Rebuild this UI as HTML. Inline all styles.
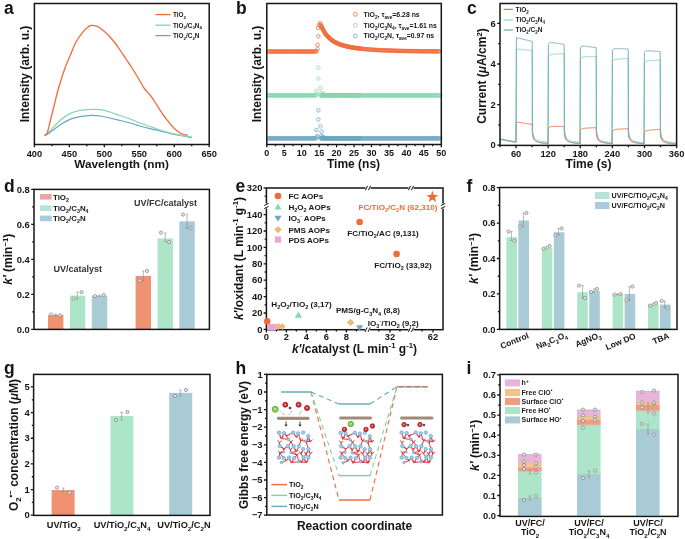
<!DOCTYPE html><html><head><meta charset="utf-8"><style>html,body{margin:0;padding:0;background:#fff;overflow:hidden}svg{display:block;will-change:transform}text{font-family:"Liberation Sans", sans-serif}</style></head><body>
<svg width="685" height="539" viewBox="0 0 685 539">
<rect width="685" height="539" fill="#fff"/>
<text x="4" y="14" font-size="17.5" text-anchor="start" fill="#151515" font-weight="bold">a</text>
<text x="236" y="14" font-size="17.5" text-anchor="start" fill="#151515" font-weight="bold">b</text>
<text x="467" y="14" font-size="17.5" text-anchor="start" fill="#151515" font-weight="bold">c</text>
<text x="4" y="191.5" font-size="17.5" text-anchor="start" fill="#151515" font-weight="bold">d</text>
<text x="235.5" y="191.5" font-size="17.5" text-anchor="start" fill="#151515" font-weight="bold">e</text>
<text x="466.5" y="191.5" font-size="17.5" text-anchor="start" fill="#151515" font-weight="bold">f</text>
<text x="4" y="374" font-size="17.5" text-anchor="start" fill="#151515" font-weight="bold">g</text>
<text x="235.5" y="374" font-size="17.5" text-anchor="start" fill="#151515" font-weight="bold">h</text>
<text x="466.5" y="374" font-size="17.5" text-anchor="start" fill="#151515" font-weight="bold">i</text>
<path d="M34.4 144.5v2.8M69.36 144.5v2.8M104.32 144.5v2.8M139.28 144.5v2.8M174.24 144.5v2.8M209.2 144.5v2.8" stroke="#151515" stroke-width="1.3"/>
<path d="M51.88 144.5v1.8M86.84 144.5v1.8M121.8 144.5v1.8M156.76 144.5v1.8M191.72 144.5v1.8" stroke="#151515" stroke-width="1.3"/>
<text x="34.4" y="156.6" font-size="9.3" text-anchor="middle" fill="#151515" font-weight="bold">400</text>
<text x="69.36" y="156.6" font-size="9.3" text-anchor="middle" fill="#151515" font-weight="bold">450</text>
<text x="104.32" y="156.6" font-size="9.3" text-anchor="middle" fill="#151515" font-weight="bold">500</text>
<text x="139.28" y="156.6" font-size="9.3" text-anchor="middle" fill="#151515" font-weight="bold">550</text>
<text x="174.24" y="156.6" font-size="9.3" text-anchor="middle" fill="#151515" font-weight="bold">600</text>
<text x="209.2" y="156.6" font-size="9.3" text-anchor="middle" fill="#151515" font-weight="bold">650</text>
<text x="121.6" y="168.2" font-size="11.8" text-anchor="middle" fill="#151515" font-weight="bold">Wavelength (nm)</text>
<text x="28.9" y="74" font-size="12" text-anchor="middle" fill="#151515" font-weight="bold" transform="rotate(-90 28.9 74)">Intensity (arb. u.)</text>
<path d="M44.4 135.8C45.33 135.23 47.4 134.2 50 132.4C52.6 130.6 56.67 127.17 60 125C63.33 122.83 66.67 120.8 70 119.4C73.33 118 76.33 117.27 80 116.6C83.67 115.93 88.67 115.5 92 115.4C95.33 115.3 97 115.57 100 116C103 116.43 106.67 117.25 110 118C113.33 118.75 116.67 119.67 120 120.5C123.33 121.33 126.67 122.08 130 123C133.33 123.92 136.67 125.07 140 126C143.33 126.93 146.67 127.77 150 128.6C153.33 129.43 156.67 130.22 160 131C163.33 131.78 166.67 132.58 170 133.3C173.33 134.02 176.33 134.58 180 135.3C183.67 136.02 190 137.22 192 137.6" fill="none" stroke="#6BA6BF" stroke-width="1.2"/>
<path d="M44.4 135.5C45.33 134.75 47.4 133.5 50 131C52.6 128.5 56.67 123.4 60 120.5C63.33 117.6 66.67 115.28 70 113.6C73.33 111.92 76.33 111.1 80 110.4C83.67 109.7 88.67 109.53 92 109.4C95.33 109.27 97 109.17 100 109.6C103 110.03 106.67 111.02 110 112C113.33 112.98 116.67 114.33 120 115.5C123.33 116.67 126.67 117.75 130 119C133.33 120.25 136.67 121.75 140 123C143.33 124.25 146.67 125.33 150 126.5C153.33 127.67 156.67 128.92 160 130C163.33 131.08 166.67 132.13 170 133C173.33 133.87 176.33 134.5 180 135.2C183.67 135.9 190 136.87 192 137.2" fill="none" stroke="#83D5AC" stroke-width="1.2"/>
<path d="M44.4 135.2C44.83 134.93 46.07 135.8 47 133.6C47.93 131.4 48.83 126.6 50 122C51.17 117.4 52.67 111.33 54 106C55.33 100.67 56.83 94.33 58 90C59.17 85.67 59.83 83.67 61 80C62.17 76.33 63.5 72 65 68C66.5 64 68.17 60.33 70 56C71.83 51.67 73.83 46 76 42C78.17 38 81 34.5 83 32C85 29.5 86.57 28.1 88 27C89.43 25.9 90.27 25.6 91.6 25.4C92.93 25.2 94.6 25.37 96 25.8C97.4 26.23 98.5 26.97 100 28C101.5 29.03 103.33 30.5 105 32C106.67 33.5 108.33 35.17 110 37C111.67 38.83 113.33 40.83 115 43C116.67 45.17 118.17 47.33 120 50C121.83 52.67 124 56 126 59C128 62 129.67 64.33 132 68C134.33 71.67 138 77.67 140 81C142 84.33 142.33 85.67 144 88C145.67 90.33 148.17 92.67 150 95C151.83 97.33 153.33 99.5 155 102C156.67 104.5 158.5 107.67 160 110C161.5 112.33 162.67 114.17 164 116C165.33 117.83 166.67 119.33 168 121C169.33 122.67 170.67 124.5 172 126C173.33 127.5 174.67 128.83 176 130C177.33 131.17 178.67 132.25 180 133C181.33 133.75 182.67 134.12 184 134.5C185.33 134.88 187.33 135.17 188 135.3" fill="none" stroke="#F26B3A" stroke-width="1.3"/>
<line x1="155.4" y1="14.6" x2="170.6" y2="14.6" stroke="#F26B3A" stroke-width="1.3"/>
<text x="173" y="16.9" font-size="6.4" text-anchor="start" fill="#151515" font-weight="bold">TiO<tspan dy="1.79" font-size="4.35">2</tspan></text>
<line x1="155.4" y1="25.2" x2="170.6" y2="25.2" stroke="#83D5AC" stroke-width="1.3"/>
<text x="173" y="27.5" font-size="6.4" text-anchor="start" fill="#151515" font-weight="bold">TiO<tspan dy="1.79" font-size="4.35">2</tspan><tspan dy="-1.79">/C</tspan><tspan dy="1.79" font-size="4.35">3</tspan><tspan dy="-1.79">N</tspan><tspan dy="1.79" font-size="4.35">4</tspan></text>
<line x1="155.4" y1="35.6" x2="170.6" y2="35.6" stroke="#6BA6BF" stroke-width="1.3"/>
<text x="173" y="37.9" font-size="6.4" text-anchor="start" fill="#151515" font-weight="bold">TiO<tspan dy="1.79" font-size="4.35">2</tspan><tspan dy="-1.79">/C</tspan><tspan dy="1.79" font-size="4.35">2</tspan><tspan dy="-1.79">N</tspan></text>
<rect x="34.4" y="3.5" width="174.8" height="141" fill="none" stroke="#151515" stroke-width="1.5"/>
<path d="M266.8 144.5v2.8M284.25 144.5v2.8M301.7 144.5v2.8M319.15 144.5v2.8M336.6 144.5v2.8M354.05 144.5v2.8M371.5 144.5v2.8M388.95 144.5v2.8M406.4 144.5v2.8M423.85 144.5v2.8M441.3 144.5v2.8" stroke="#151515" stroke-width="1.3"/>
<path d="M275.53 144.5v1.8M292.98 144.5v1.8M310.43 144.5v1.8M327.88 144.5v1.8M345.33 144.5v1.8M362.77 144.5v1.8M380.23 144.5v1.8M397.68 144.5v1.8M415.12 144.5v1.8M432.58 144.5v1.8" stroke="#151515" stroke-width="1.3"/>
<text x="266.8" y="156.3" font-size="9" text-anchor="middle" fill="#151515" font-weight="bold">0</text>
<text x="284.25" y="156.3" font-size="9" text-anchor="middle" fill="#151515" font-weight="bold">5</text>
<text x="301.7" y="156.3" font-size="9" text-anchor="middle" fill="#151515" font-weight="bold">10</text>
<text x="319.15" y="156.3" font-size="9" text-anchor="middle" fill="#151515" font-weight="bold">15</text>
<text x="336.6" y="156.3" font-size="9" text-anchor="middle" fill="#151515" font-weight="bold">20</text>
<text x="354.05" y="156.3" font-size="9" text-anchor="middle" fill="#151515" font-weight="bold">25</text>
<text x="371.5" y="156.3" font-size="9" text-anchor="middle" fill="#151515" font-weight="bold">30</text>
<text x="388.95" y="156.3" font-size="9" text-anchor="middle" fill="#151515" font-weight="bold">35</text>
<text x="406.4" y="156.3" font-size="9" text-anchor="middle" fill="#151515" font-weight="bold">40</text>
<text x="423.85" y="156.3" font-size="9" text-anchor="middle" fill="#151515" font-weight="bold">45</text>
<text x="441.3" y="156.3" font-size="9" text-anchor="middle" fill="#151515" font-weight="bold">50</text>
<text x="353.5" y="167.9" font-size="12" text-anchor="middle" fill="#151515" font-weight="bold">Time (ns)</text>
<text x="261" y="74" font-size="12" text-anchor="middle" fill="#151515" font-weight="bold" transform="rotate(-90 261 74)">Intensity (arb. u.)</text>
<path d="M266.45 138.4a1.75 1.75 0 1 0 3.5 0a1.75 1.75 0 1 0-3.5 0M267.35 138.4a1.75 1.75 0 1 0 3.5 0a1.75 1.75 0 1 0-3.5 0M268.25 138.4a1.75 1.75 0 1 0 3.5 0a1.75 1.75 0 1 0-3.5 0M269.15 138.4a1.75 1.75 0 1 0 3.5 0a1.75 1.75 0 1 0-3.5 0M270.05 138.4a1.75 1.75 0 1 0 3.5 0a1.75 1.75 0 1 0-3.5 0M270.95 138.4a1.75 1.75 0 1 0 3.5 0a1.75 1.75 0 1 0-3.5 0M271.85 138.4a1.75 1.75 0 1 0 3.5 0a1.75 1.75 0 1 0-3.5 0M272.75 138.4a1.75 1.75 0 1 0 3.5 0a1.75 1.75 0 1 0-3.5 0M273.65 138.4a1.75 1.75 0 1 0 3.5 0a1.75 1.75 0 1 0-3.5 0M274.55 138.4a1.75 1.75 0 1 0 3.5 0a1.75 1.75 0 1 0-3.5 0M275.45 138.4a1.75 1.75 0 1 0 3.5 0a1.75 1.75 0 1 0-3.5 0M276.35 138.4a1.75 1.75 0 1 0 3.5 0a1.75 1.75 0 1 0-3.5 0M277.25 138.4a1.75 1.75 0 1 0 3.5 0a1.75 1.75 0 1 0-3.5 0M278.15 138.4a1.75 1.75 0 1 0 3.5 0a1.75 1.75 0 1 0-3.5 0M279.05 138.4a1.75 1.75 0 1 0 3.5 0a1.75 1.75 0 1 0-3.5 0M279.95 138.4a1.75 1.75 0 1 0 3.5 0a1.75 1.75 0 1 0-3.5 0M280.85 138.4a1.75 1.75 0 1 0 3.5 0a1.75 1.75 0 1 0-3.5 0M281.75 138.4a1.75 1.75 0 1 0 3.5 0a1.75 1.75 0 1 0-3.5 0M282.65 138.4a1.75 1.75 0 1 0 3.5 0a1.75 1.75 0 1 0-3.5 0M283.55 138.4a1.75 1.75 0 1 0 3.5 0a1.75 1.75 0 1 0-3.5 0M284.45 138.4a1.75 1.75 0 1 0 3.5 0a1.75 1.75 0 1 0-3.5 0M285.35 138.4a1.75 1.75 0 1 0 3.5 0a1.75 1.75 0 1 0-3.5 0M286.25 138.4a1.75 1.75 0 1 0 3.5 0a1.75 1.75 0 1 0-3.5 0M287.15 138.4a1.75 1.75 0 1 0 3.5 0a1.75 1.75 0 1 0-3.5 0M288.05 138.4a1.75 1.75 0 1 0 3.5 0a1.75 1.75 0 1 0-3.5 0M288.95 138.4a1.75 1.75 0 1 0 3.5 0a1.75 1.75 0 1 0-3.5 0M289.85 138.4a1.75 1.75 0 1 0 3.5 0a1.75 1.75 0 1 0-3.5 0M290.75 138.4a1.75 1.75 0 1 0 3.5 0a1.75 1.75 0 1 0-3.5 0M291.65 138.4a1.75 1.75 0 1 0 3.5 0a1.75 1.75 0 1 0-3.5 0M292.55 138.4a1.75 1.75 0 1 0 3.5 0a1.75 1.75 0 1 0-3.5 0M293.45 138.4a1.75 1.75 0 1 0 3.5 0a1.75 1.75 0 1 0-3.5 0M294.35 138.4a1.75 1.75 0 1 0 3.5 0a1.75 1.75 0 1 0-3.5 0M295.25 138.4a1.75 1.75 0 1 0 3.5 0a1.75 1.75 0 1 0-3.5 0M296.15 138.4a1.75 1.75 0 1 0 3.5 0a1.75 1.75 0 1 0-3.5 0M297.05 138.4a1.75 1.75 0 1 0 3.5 0a1.75 1.75 0 1 0-3.5 0M297.95 138.4a1.75 1.75 0 1 0 3.5 0a1.75 1.75 0 1 0-3.5 0M298.85 138.4a1.75 1.75 0 1 0 3.5 0a1.75 1.75 0 1 0-3.5 0M299.75 138.4a1.75 1.75 0 1 0 3.5 0a1.75 1.75 0 1 0-3.5 0M300.65 138.4a1.75 1.75 0 1 0 3.5 0a1.75 1.75 0 1 0-3.5 0M301.55 138.4a1.75 1.75 0 1 0 3.5 0a1.75 1.75 0 1 0-3.5 0M302.45 138.4a1.75 1.75 0 1 0 3.5 0a1.75 1.75 0 1 0-3.5 0M303.35 138.4a1.75 1.75 0 1 0 3.5 0a1.75 1.75 0 1 0-3.5 0M304.25 138.4a1.75 1.75 0 1 0 3.5 0a1.75 1.75 0 1 0-3.5 0M305.15 138.4a1.75 1.75 0 1 0 3.5 0a1.75 1.75 0 1 0-3.5 0M306.05 138.4a1.75 1.75 0 1 0 3.5 0a1.75 1.75 0 1 0-3.5 0M306.95 138.4a1.75 1.75 0 1 0 3.5 0a1.75 1.75 0 1 0-3.5 0M307.85 138.4a1.75 1.75 0 1 0 3.5 0a1.75 1.75 0 1 0-3.5 0M308.75 138.4a1.75 1.75 0 1 0 3.5 0a1.75 1.75 0 1 0-3.5 0M309.65 138.4a1.75 1.75 0 1 0 3.5 0a1.75 1.75 0 1 0-3.5 0M310.55 138.4a1.75 1.75 0 1 0 3.5 0a1.75 1.75 0 1 0-3.5 0M311.45 138.4a1.75 1.75 0 1 0 3.5 0a1.75 1.75 0 1 0-3.5 0M312.35 138.4a1.75 1.75 0 1 0 3.5 0a1.75 1.75 0 1 0-3.5 0M313.25 138.4a1.75 1.75 0 1 0 3.5 0a1.75 1.75 0 1 0-3.5 0M314.15 138.4a1.75 1.75 0 1 0 3.5 0a1.75 1.75 0 1 0-3.5 0M315.55 136a1.75 1.75 0 1 0 3.5 0a1.75 1.75 0 1 0-3.5 0M314.65 130a1.75 1.75 0 1 0 3.5 0a1.75 1.75 0 1 0-3.5 0M319.85 131.6a1.75 1.75 0 1 0 3.5 0a1.75 1.75 0 1 0-3.5 0M318.65 126.4a1.75 1.75 0 1 0 3.5 0a1.75 1.75 0 1 0-3.5 0M316.65 119.4a1.75 1.75 0 1 0 3.5 0a1.75 1.75 0 1 0-3.5 0M316.65 110.4a1.75 1.75 0 1 0 3.5 0a1.75 1.75 0 1 0-3.5 0M315.05 137.4a1.75 1.75 0 1 0 3.5 0a1.75 1.75 0 1 0-3.5 0M318.95 138.4a1.75 1.75 0 1 0 3.5 0a1.75 1.75 0 1 0-3.5 0M319.45 138.4a1.75 1.75 0 1 0 3.5 0a1.75 1.75 0 1 0-3.5 0M319.95 138.4a1.75 1.75 0 1 0 3.5 0a1.75 1.75 0 1 0-3.5 0M320.45 138.4a1.75 1.75 0 1 0 3.5 0a1.75 1.75 0 1 0-3.5 0M320.95 138.4a1.75 1.75 0 1 0 3.5 0a1.75 1.75 0 1 0-3.5 0M321.45 138.4a1.75 1.75 0 1 0 3.5 0a1.75 1.75 0 1 0-3.5 0M321.95 138.4a1.75 1.75 0 1 0 3.5 0a1.75 1.75 0 1 0-3.5 0M322.45 138.4a1.75 1.75 0 1 0 3.5 0a1.75 1.75 0 1 0-3.5 0M322.95 138.4a1.75 1.75 0 1 0 3.5 0a1.75 1.75 0 1 0-3.5 0M323.45 138.4a1.75 1.75 0 1 0 3.5 0a1.75 1.75 0 1 0-3.5 0M323.95 138.4a1.75 1.75 0 1 0 3.5 0a1.75 1.75 0 1 0-3.5 0M324.45 138.4a1.75 1.75 0 1 0 3.5 0a1.75 1.75 0 1 0-3.5 0M324.95 138.4a1.75 1.75 0 1 0 3.5 0a1.75 1.75 0 1 0-3.5 0M325.45 138.4a1.75 1.75 0 1 0 3.5 0a1.75 1.75 0 1 0-3.5 0M325.95 138.4a1.75 1.75 0 1 0 3.5 0a1.75 1.75 0 1 0-3.5 0M326.45 138.4a1.75 1.75 0 1 0 3.5 0a1.75 1.75 0 1 0-3.5 0M326.95 138.4a1.75 1.75 0 1 0 3.5 0a1.75 1.75 0 1 0-3.5 0M327.45 138.4a1.75 1.75 0 1 0 3.5 0a1.75 1.75 0 1 0-3.5 0M327.95 138.4a1.75 1.75 0 1 0 3.5 0a1.75 1.75 0 1 0-3.5 0M328.45 138.4a1.75 1.75 0 1 0 3.5 0a1.75 1.75 0 1 0-3.5 0M328.95 138.4a1.75 1.75 0 1 0 3.5 0a1.75 1.75 0 1 0-3.5 0M329.45 138.4a1.75 1.75 0 1 0 3.5 0a1.75 1.75 0 1 0-3.5 0M329.95 138.4a1.75 1.75 0 1 0 3.5 0a1.75 1.75 0 1 0-3.5 0M330.45 138.4a1.75 1.75 0 1 0 3.5 0a1.75 1.75 0 1 0-3.5 0M330.95 138.4a1.75 1.75 0 1 0 3.5 0a1.75 1.75 0 1 0-3.5 0M331.45 138.4a1.75 1.75 0 1 0 3.5 0a1.75 1.75 0 1 0-3.5 0M331.95 138.4a1.75 1.75 0 1 0 3.5 0a1.75 1.75 0 1 0-3.5 0M332.45 138.4a1.75 1.75 0 1 0 3.5 0a1.75 1.75 0 1 0-3.5 0M332.95 138.4a1.75 1.75 0 1 0 3.5 0a1.75 1.75 0 1 0-3.5 0M333.45 138.4a1.75 1.75 0 1 0 3.5 0a1.75 1.75 0 1 0-3.5 0M333.95 138.4a1.75 1.75 0 1 0 3.5 0a1.75 1.75 0 1 0-3.5 0M334.45 138.4a1.75 1.75 0 1 0 3.5 0a1.75 1.75 0 1 0-3.5 0M334.95 138.4a1.75 1.75 0 1 0 3.5 0a1.75 1.75 0 1 0-3.5 0M335.45 138.4a1.75 1.75 0 1 0 3.5 0a1.75 1.75 0 1 0-3.5 0M335.95 138.4a1.75 1.75 0 1 0 3.5 0a1.75 1.75 0 1 0-3.5 0M336.45 138.4a1.75 1.75 0 1 0 3.5 0a1.75 1.75 0 1 0-3.5 0M336.95 138.4a1.75 1.75 0 1 0 3.5 0a1.75 1.75 0 1 0-3.5 0M337.45 138.4a1.75 1.75 0 1 0 3.5 0a1.75 1.75 0 1 0-3.5 0M337.95 138.4a1.75 1.75 0 1 0 3.5 0a1.75 1.75 0 1 0-3.5 0M338.45 138.4a1.75 1.75 0 1 0 3.5 0a1.75 1.75 0 1 0-3.5 0M338.95 138.4a1.75 1.75 0 1 0 3.5 0a1.75 1.75 0 1 0-3.5 0M339.45 138.4a1.75 1.75 0 1 0 3.5 0a1.75 1.75 0 1 0-3.5 0M339.95 138.4a1.75 1.75 0 1 0 3.5 0a1.75 1.75 0 1 0-3.5 0M340.45 138.4a1.75 1.75 0 1 0 3.5 0a1.75 1.75 0 1 0-3.5 0M340.95 138.4a1.75 1.75 0 1 0 3.5 0a1.75 1.75 0 1 0-3.5 0M341.45 138.4a1.75 1.75 0 1 0 3.5 0a1.75 1.75 0 1 0-3.5 0M341.95 138.4a1.75 1.75 0 1 0 3.5 0a1.75 1.75 0 1 0-3.5 0M342.45 138.4a1.75 1.75 0 1 0 3.5 0a1.75 1.75 0 1 0-3.5 0M342.95 138.4a1.75 1.75 0 1 0 3.5 0a1.75 1.75 0 1 0-3.5 0M343.45 138.4a1.75 1.75 0 1 0 3.5 0a1.75 1.75 0 1 0-3.5 0M343.95 138.4a1.75 1.75 0 1 0 3.5 0a1.75 1.75 0 1 0-3.5 0M344.45 138.4a1.75 1.75 0 1 0 3.5 0a1.75 1.75 0 1 0-3.5 0M344.95 138.4a1.75 1.75 0 1 0 3.5 0a1.75 1.75 0 1 0-3.5 0M345.45 138.4a1.75 1.75 0 1 0 3.5 0a1.75 1.75 0 1 0-3.5 0M345.95 138.4a1.75 1.75 0 1 0 3.5 0a1.75 1.75 0 1 0-3.5 0M346.45 138.4a1.75 1.75 0 1 0 3.5 0a1.75 1.75 0 1 0-3.5 0M346.95 138.4a1.75 1.75 0 1 0 3.5 0a1.75 1.75 0 1 0-3.5 0M347.45 138.4a1.75 1.75 0 1 0 3.5 0a1.75 1.75 0 1 0-3.5 0M347.95 138.4a1.75 1.75 0 1 0 3.5 0a1.75 1.75 0 1 0-3.5 0M348.45 138.4a1.75 1.75 0 1 0 3.5 0a1.75 1.75 0 1 0-3.5 0M348.95 138.4a1.75 1.75 0 1 0 3.5 0a1.75 1.75 0 1 0-3.5 0M349.45 138.4a1.75 1.75 0 1 0 3.5 0a1.75 1.75 0 1 0-3.5 0M349.95 138.4a1.75 1.75 0 1 0 3.5 0a1.75 1.75 0 1 0-3.5 0M350.45 138.4a1.75 1.75 0 1 0 3.5 0a1.75 1.75 0 1 0-3.5 0M350.95 138.4a1.75 1.75 0 1 0 3.5 0a1.75 1.75 0 1 0-3.5 0M351.45 138.4a1.75 1.75 0 1 0 3.5 0a1.75 1.75 0 1 0-3.5 0M351.95 138.4a1.75 1.75 0 1 0 3.5 0a1.75 1.75 0 1 0-3.5 0M352.45 138.4a1.75 1.75 0 1 0 3.5 0a1.75 1.75 0 1 0-3.5 0M352.95 138.4a1.75 1.75 0 1 0 3.5 0a1.75 1.75 0 1 0-3.5 0M353.45 138.4a1.75 1.75 0 1 0 3.5 0a1.75 1.75 0 1 0-3.5 0M353.95 138.4a1.75 1.75 0 1 0 3.5 0a1.75 1.75 0 1 0-3.5 0M354.45 138.4a1.75 1.75 0 1 0 3.5 0a1.75 1.75 0 1 0-3.5 0M354.95 138.4a1.75 1.75 0 1 0 3.5 0a1.75 1.75 0 1 0-3.5 0M355.45 138.4a1.75 1.75 0 1 0 3.5 0a1.75 1.75 0 1 0-3.5 0M355.95 138.4a1.75 1.75 0 1 0 3.5 0a1.75 1.75 0 1 0-3.5 0M356.45 138.4a1.75 1.75 0 1 0 3.5 0a1.75 1.75 0 1 0-3.5 0M356.95 138.4a1.75 1.75 0 1 0 3.5 0a1.75 1.75 0 1 0-3.5 0M357.45 138.4a1.75 1.75 0 1 0 3.5 0a1.75 1.75 0 1 0-3.5 0M357.95 138.4a1.75 1.75 0 1 0 3.5 0a1.75 1.75 0 1 0-3.5 0M358.45 138.4a1.75 1.75 0 1 0 3.5 0a1.75 1.75 0 1 0-3.5 0M359.35 138.4a1.75 1.75 0 1 0 3.5 0a1.75 1.75 0 1 0-3.5 0M360.25 138.4a1.75 1.75 0 1 0 3.5 0a1.75 1.75 0 1 0-3.5 0M361.15 138.4a1.75 1.75 0 1 0 3.5 0a1.75 1.75 0 1 0-3.5 0M362.05 138.4a1.75 1.75 0 1 0 3.5 0a1.75 1.75 0 1 0-3.5 0M362.95 138.4a1.75 1.75 0 1 0 3.5 0a1.75 1.75 0 1 0-3.5 0M363.85 138.4a1.75 1.75 0 1 0 3.5 0a1.75 1.75 0 1 0-3.5 0M364.75 138.4a1.75 1.75 0 1 0 3.5 0a1.75 1.75 0 1 0-3.5 0M365.65 138.4a1.75 1.75 0 1 0 3.5 0a1.75 1.75 0 1 0-3.5 0M366.55 138.4a1.75 1.75 0 1 0 3.5 0a1.75 1.75 0 1 0-3.5 0M367.45 138.4a1.75 1.75 0 1 0 3.5 0a1.75 1.75 0 1 0-3.5 0M368.35 138.4a1.75 1.75 0 1 0 3.5 0a1.75 1.75 0 1 0-3.5 0M369.25 138.4a1.75 1.75 0 1 0 3.5 0a1.75 1.75 0 1 0-3.5 0M370.15 138.4a1.75 1.75 0 1 0 3.5 0a1.75 1.75 0 1 0-3.5 0M371.05 138.4a1.75 1.75 0 1 0 3.5 0a1.75 1.75 0 1 0-3.5 0M371.95 138.4a1.75 1.75 0 1 0 3.5 0a1.75 1.75 0 1 0-3.5 0M372.85 138.4a1.75 1.75 0 1 0 3.5 0a1.75 1.75 0 1 0-3.5 0M373.75 138.4a1.75 1.75 0 1 0 3.5 0a1.75 1.75 0 1 0-3.5 0M374.65 138.4a1.75 1.75 0 1 0 3.5 0a1.75 1.75 0 1 0-3.5 0M375.55 138.4a1.75 1.75 0 1 0 3.5 0a1.75 1.75 0 1 0-3.5 0M376.45 138.4a1.75 1.75 0 1 0 3.5 0a1.75 1.75 0 1 0-3.5 0M377.35 138.4a1.75 1.75 0 1 0 3.5 0a1.75 1.75 0 1 0-3.5 0M378.25 138.4a1.75 1.75 0 1 0 3.5 0a1.75 1.75 0 1 0-3.5 0M379.15 138.4a1.75 1.75 0 1 0 3.5 0a1.75 1.75 0 1 0-3.5 0M380.05 138.4a1.75 1.75 0 1 0 3.5 0a1.75 1.75 0 1 0-3.5 0M380.95 138.4a1.75 1.75 0 1 0 3.5 0a1.75 1.75 0 1 0-3.5 0M381.85 138.4a1.75 1.75 0 1 0 3.5 0a1.75 1.75 0 1 0-3.5 0M382.75 138.4a1.75 1.75 0 1 0 3.5 0a1.75 1.75 0 1 0-3.5 0M383.65 138.4a1.75 1.75 0 1 0 3.5 0a1.75 1.75 0 1 0-3.5 0M384.55 138.4a1.75 1.75 0 1 0 3.5 0a1.75 1.75 0 1 0-3.5 0M385.45 138.4a1.75 1.75 0 1 0 3.5 0a1.75 1.75 0 1 0-3.5 0M386.35 138.4a1.75 1.75 0 1 0 3.5 0a1.75 1.75 0 1 0-3.5 0M387.25 138.4a1.75 1.75 0 1 0 3.5 0a1.75 1.75 0 1 0-3.5 0M388.15 138.4a1.75 1.75 0 1 0 3.5 0a1.75 1.75 0 1 0-3.5 0M389.05 138.4a1.75 1.75 0 1 0 3.5 0a1.75 1.75 0 1 0-3.5 0M389.95 138.4a1.75 1.75 0 1 0 3.5 0a1.75 1.75 0 1 0-3.5 0M390.85 138.4a1.75 1.75 0 1 0 3.5 0a1.75 1.75 0 1 0-3.5 0M391.75 138.4a1.75 1.75 0 1 0 3.5 0a1.75 1.75 0 1 0-3.5 0M392.65 138.4a1.75 1.75 0 1 0 3.5 0a1.75 1.75 0 1 0-3.5 0M393.55 138.4a1.75 1.75 0 1 0 3.5 0a1.75 1.75 0 1 0-3.5 0M394.45 138.4a1.75 1.75 0 1 0 3.5 0a1.75 1.75 0 1 0-3.5 0M395.35 138.4a1.75 1.75 0 1 0 3.5 0a1.75 1.75 0 1 0-3.5 0M396.25 138.4a1.75 1.75 0 1 0 3.5 0a1.75 1.75 0 1 0-3.5 0M397.15 138.4a1.75 1.75 0 1 0 3.5 0a1.75 1.75 0 1 0-3.5 0M398.05 138.4a1.75 1.75 0 1 0 3.5 0a1.75 1.75 0 1 0-3.5 0M398.95 138.4a1.75 1.75 0 1 0 3.5 0a1.75 1.75 0 1 0-3.5 0M399.85 138.4a1.75 1.75 0 1 0 3.5 0a1.75 1.75 0 1 0-3.5 0M400.75 138.4a1.75 1.75 0 1 0 3.5 0a1.75 1.75 0 1 0-3.5 0M401.65 138.4a1.75 1.75 0 1 0 3.5 0a1.75 1.75 0 1 0-3.5 0M402.55 138.4a1.75 1.75 0 1 0 3.5 0a1.75 1.75 0 1 0-3.5 0M403.45 138.4a1.75 1.75 0 1 0 3.5 0a1.75 1.75 0 1 0-3.5 0M404.35 138.4a1.75 1.75 0 1 0 3.5 0a1.75 1.75 0 1 0-3.5 0M405.25 138.4a1.75 1.75 0 1 0 3.5 0a1.75 1.75 0 1 0-3.5 0M406.15 138.4a1.75 1.75 0 1 0 3.5 0a1.75 1.75 0 1 0-3.5 0M407.05 138.4a1.75 1.75 0 1 0 3.5 0a1.75 1.75 0 1 0-3.5 0M407.95 138.4a1.75 1.75 0 1 0 3.5 0a1.75 1.75 0 1 0-3.5 0M408.85 138.4a1.75 1.75 0 1 0 3.5 0a1.75 1.75 0 1 0-3.5 0M409.75 138.4a1.75 1.75 0 1 0 3.5 0a1.75 1.75 0 1 0-3.5 0M410.65 138.4a1.75 1.75 0 1 0 3.5 0a1.75 1.75 0 1 0-3.5 0M411.55 138.4a1.75 1.75 0 1 0 3.5 0a1.75 1.75 0 1 0-3.5 0M412.45 138.4a1.75 1.75 0 1 0 3.5 0a1.75 1.75 0 1 0-3.5 0M413.35 138.4a1.75 1.75 0 1 0 3.5 0a1.75 1.75 0 1 0-3.5 0M414.25 138.4a1.75 1.75 0 1 0 3.5 0a1.75 1.75 0 1 0-3.5 0M415.15 138.4a1.75 1.75 0 1 0 3.5 0a1.75 1.75 0 1 0-3.5 0M416.05 138.4a1.75 1.75 0 1 0 3.5 0a1.75 1.75 0 1 0-3.5 0M416.95 138.4a1.75 1.75 0 1 0 3.5 0a1.75 1.75 0 1 0-3.5 0M417.85 138.4a1.75 1.75 0 1 0 3.5 0a1.75 1.75 0 1 0-3.5 0M418.75 138.4a1.75 1.75 0 1 0 3.5 0a1.75 1.75 0 1 0-3.5 0M419.65 138.4a1.75 1.75 0 1 0 3.5 0a1.75 1.75 0 1 0-3.5 0M420.55 138.4a1.75 1.75 0 1 0 3.5 0a1.75 1.75 0 1 0-3.5 0M421.45 138.4a1.75 1.75 0 1 0 3.5 0a1.75 1.75 0 1 0-3.5 0M422.35 138.4a1.75 1.75 0 1 0 3.5 0a1.75 1.75 0 1 0-3.5 0M423.25 138.4a1.75 1.75 0 1 0 3.5 0a1.75 1.75 0 1 0-3.5 0M424.15 138.4a1.75 1.75 0 1 0 3.5 0a1.75 1.75 0 1 0-3.5 0M425.05 138.4a1.75 1.75 0 1 0 3.5 0a1.75 1.75 0 1 0-3.5 0M425.95 138.4a1.75 1.75 0 1 0 3.5 0a1.75 1.75 0 1 0-3.5 0M426.85 138.4a1.75 1.75 0 1 0 3.5 0a1.75 1.75 0 1 0-3.5 0M427.75 138.4a1.75 1.75 0 1 0 3.5 0a1.75 1.75 0 1 0-3.5 0M428.65 138.4a1.75 1.75 0 1 0 3.5 0a1.75 1.75 0 1 0-3.5 0M429.55 138.4a1.75 1.75 0 1 0 3.5 0a1.75 1.75 0 1 0-3.5 0M430.45 138.4a1.75 1.75 0 1 0 3.5 0a1.75 1.75 0 1 0-3.5 0M431.35 138.4a1.75 1.75 0 1 0 3.5 0a1.75 1.75 0 1 0-3.5 0M432.25 138.4a1.75 1.75 0 1 0 3.5 0a1.75 1.75 0 1 0-3.5 0M433.15 138.4a1.75 1.75 0 1 0 3.5 0a1.75 1.75 0 1 0-3.5 0M434.05 138.4a1.75 1.75 0 1 0 3.5 0a1.75 1.75 0 1 0-3.5 0M434.95 138.4a1.75 1.75 0 1 0 3.5 0a1.75 1.75 0 1 0-3.5 0M435.85 138.4a1.75 1.75 0 1 0 3.5 0a1.75 1.75 0 1 0-3.5 0M436.75 138.4a1.75 1.75 0 1 0 3.5 0a1.75 1.75 0 1 0-3.5 0M437.65 138.4a1.75 1.75 0 1 0 3.5 0a1.75 1.75 0 1 0-3.5 0M438.55 138.4a1.75 1.75 0 1 0 3.5 0a1.75 1.75 0 1 0-3.5 0" fill="none" stroke="#6BA6BF" stroke-width="0.75"/>
<path d="M266.45 95.4a1.75 1.75 0 1 0 3.5 0a1.75 1.75 0 1 0-3.5 0M267.35 95.4a1.75 1.75 0 1 0 3.5 0a1.75 1.75 0 1 0-3.5 0M268.25 95.4a1.75 1.75 0 1 0 3.5 0a1.75 1.75 0 1 0-3.5 0M269.15 95.4a1.75 1.75 0 1 0 3.5 0a1.75 1.75 0 1 0-3.5 0M270.05 95.4a1.75 1.75 0 1 0 3.5 0a1.75 1.75 0 1 0-3.5 0M270.95 95.4a1.75 1.75 0 1 0 3.5 0a1.75 1.75 0 1 0-3.5 0M271.85 95.4a1.75 1.75 0 1 0 3.5 0a1.75 1.75 0 1 0-3.5 0M272.75 95.4a1.75 1.75 0 1 0 3.5 0a1.75 1.75 0 1 0-3.5 0M273.65 95.4a1.75 1.75 0 1 0 3.5 0a1.75 1.75 0 1 0-3.5 0M274.55 95.4a1.75 1.75 0 1 0 3.5 0a1.75 1.75 0 1 0-3.5 0M275.45 95.4a1.75 1.75 0 1 0 3.5 0a1.75 1.75 0 1 0-3.5 0M276.35 95.4a1.75 1.75 0 1 0 3.5 0a1.75 1.75 0 1 0-3.5 0M277.25 95.4a1.75 1.75 0 1 0 3.5 0a1.75 1.75 0 1 0-3.5 0M278.15 95.4a1.75 1.75 0 1 0 3.5 0a1.75 1.75 0 1 0-3.5 0M279.05 95.4a1.75 1.75 0 1 0 3.5 0a1.75 1.75 0 1 0-3.5 0M279.95 95.4a1.75 1.75 0 1 0 3.5 0a1.75 1.75 0 1 0-3.5 0M280.85 95.4a1.75 1.75 0 1 0 3.5 0a1.75 1.75 0 1 0-3.5 0M281.75 95.4a1.75 1.75 0 1 0 3.5 0a1.75 1.75 0 1 0-3.5 0M282.65 95.4a1.75 1.75 0 1 0 3.5 0a1.75 1.75 0 1 0-3.5 0M283.55 95.4a1.75 1.75 0 1 0 3.5 0a1.75 1.75 0 1 0-3.5 0M284.45 95.4a1.75 1.75 0 1 0 3.5 0a1.75 1.75 0 1 0-3.5 0M285.35 95.4a1.75 1.75 0 1 0 3.5 0a1.75 1.75 0 1 0-3.5 0M286.25 95.4a1.75 1.75 0 1 0 3.5 0a1.75 1.75 0 1 0-3.5 0M287.15 95.4a1.75 1.75 0 1 0 3.5 0a1.75 1.75 0 1 0-3.5 0M288.05 95.4a1.75 1.75 0 1 0 3.5 0a1.75 1.75 0 1 0-3.5 0M288.95 95.4a1.75 1.75 0 1 0 3.5 0a1.75 1.75 0 1 0-3.5 0M289.85 95.4a1.75 1.75 0 1 0 3.5 0a1.75 1.75 0 1 0-3.5 0M290.75 95.4a1.75 1.75 0 1 0 3.5 0a1.75 1.75 0 1 0-3.5 0M291.65 95.4a1.75 1.75 0 1 0 3.5 0a1.75 1.75 0 1 0-3.5 0M292.55 95.4a1.75 1.75 0 1 0 3.5 0a1.75 1.75 0 1 0-3.5 0M293.45 95.4a1.75 1.75 0 1 0 3.5 0a1.75 1.75 0 1 0-3.5 0M294.35 95.4a1.75 1.75 0 1 0 3.5 0a1.75 1.75 0 1 0-3.5 0M295.25 95.4a1.75 1.75 0 1 0 3.5 0a1.75 1.75 0 1 0-3.5 0M296.15 95.4a1.75 1.75 0 1 0 3.5 0a1.75 1.75 0 1 0-3.5 0M297.05 95.4a1.75 1.75 0 1 0 3.5 0a1.75 1.75 0 1 0-3.5 0M297.95 95.4a1.75 1.75 0 1 0 3.5 0a1.75 1.75 0 1 0-3.5 0M298.85 95.4a1.75 1.75 0 1 0 3.5 0a1.75 1.75 0 1 0-3.5 0M299.75 95.4a1.75 1.75 0 1 0 3.5 0a1.75 1.75 0 1 0-3.5 0M300.65 95.4a1.75 1.75 0 1 0 3.5 0a1.75 1.75 0 1 0-3.5 0M301.55 95.4a1.75 1.75 0 1 0 3.5 0a1.75 1.75 0 1 0-3.5 0M302.45 95.4a1.75 1.75 0 1 0 3.5 0a1.75 1.75 0 1 0-3.5 0M303.35 95.4a1.75 1.75 0 1 0 3.5 0a1.75 1.75 0 1 0-3.5 0M304.25 95.4a1.75 1.75 0 1 0 3.5 0a1.75 1.75 0 1 0-3.5 0M305.15 95.4a1.75 1.75 0 1 0 3.5 0a1.75 1.75 0 1 0-3.5 0M306.05 95.4a1.75 1.75 0 1 0 3.5 0a1.75 1.75 0 1 0-3.5 0M306.95 95.4a1.75 1.75 0 1 0 3.5 0a1.75 1.75 0 1 0-3.5 0M307.85 95.4a1.75 1.75 0 1 0 3.5 0a1.75 1.75 0 1 0-3.5 0M308.75 95.4a1.75 1.75 0 1 0 3.5 0a1.75 1.75 0 1 0-3.5 0M309.65 95.4a1.75 1.75 0 1 0 3.5 0a1.75 1.75 0 1 0-3.5 0M310.55 95.4a1.75 1.75 0 1 0 3.5 0a1.75 1.75 0 1 0-3.5 0M311.45 95.4a1.75 1.75 0 1 0 3.5 0a1.75 1.75 0 1 0-3.5 0M312.35 95.4a1.75 1.75 0 1 0 3.5 0a1.75 1.75 0 1 0-3.5 0M313.25 95.4a1.75 1.75 0 1 0 3.5 0a1.75 1.75 0 1 0-3.5 0M314.15 95.4a1.75 1.75 0 1 0 3.5 0a1.75 1.75 0 1 0-3.5 0M315.05 94.4a1.75 1.75 0 1 0 3.5 0a1.75 1.75 0 1 0-3.5 0M314.65 91a1.75 1.75 0 1 0 3.5 0a1.75 1.75 0 1 0-3.5 0M318.65 88a1.75 1.75 0 1 0 3.5 0a1.75 1.75 0 1 0-3.5 0M316.65 78.6a1.75 1.75 0 1 0 3.5 0a1.75 1.75 0 1 0-3.5 0M316.65 67.6a1.75 1.75 0 1 0 3.5 0a1.75 1.75 0 1 0-3.5 0M318.95 95.4a1.75 1.75 0 1 0 3.5 0a1.75 1.75 0 1 0-3.5 0M319.45 95.4a1.75 1.75 0 1 0 3.5 0a1.75 1.75 0 1 0-3.5 0M319.95 95.4a1.75 1.75 0 1 0 3.5 0a1.75 1.75 0 1 0-3.5 0M320.45 95.4a1.75 1.75 0 1 0 3.5 0a1.75 1.75 0 1 0-3.5 0M320.95 95.4a1.75 1.75 0 1 0 3.5 0a1.75 1.75 0 1 0-3.5 0M321.45 95.4a1.75 1.75 0 1 0 3.5 0a1.75 1.75 0 1 0-3.5 0M321.95 95.4a1.75 1.75 0 1 0 3.5 0a1.75 1.75 0 1 0-3.5 0M322.45 95.4a1.75 1.75 0 1 0 3.5 0a1.75 1.75 0 1 0-3.5 0M322.95 95.4a1.75 1.75 0 1 0 3.5 0a1.75 1.75 0 1 0-3.5 0M323.45 95.4a1.75 1.75 0 1 0 3.5 0a1.75 1.75 0 1 0-3.5 0M323.95 95.4a1.75 1.75 0 1 0 3.5 0a1.75 1.75 0 1 0-3.5 0M324.45 95.4a1.75 1.75 0 1 0 3.5 0a1.75 1.75 0 1 0-3.5 0M324.95 95.4a1.75 1.75 0 1 0 3.5 0a1.75 1.75 0 1 0-3.5 0M325.45 95.4a1.75 1.75 0 1 0 3.5 0a1.75 1.75 0 1 0-3.5 0M325.95 95.4a1.75 1.75 0 1 0 3.5 0a1.75 1.75 0 1 0-3.5 0M326.45 95.4a1.75 1.75 0 1 0 3.5 0a1.75 1.75 0 1 0-3.5 0M326.95 95.4a1.75 1.75 0 1 0 3.5 0a1.75 1.75 0 1 0-3.5 0M327.45 95.4a1.75 1.75 0 1 0 3.5 0a1.75 1.75 0 1 0-3.5 0M327.95 95.4a1.75 1.75 0 1 0 3.5 0a1.75 1.75 0 1 0-3.5 0M328.45 95.4a1.75 1.75 0 1 0 3.5 0a1.75 1.75 0 1 0-3.5 0M328.95 95.4a1.75 1.75 0 1 0 3.5 0a1.75 1.75 0 1 0-3.5 0M329.45 95.4a1.75 1.75 0 1 0 3.5 0a1.75 1.75 0 1 0-3.5 0M329.95 95.4a1.75 1.75 0 1 0 3.5 0a1.75 1.75 0 1 0-3.5 0M330.45 95.4a1.75 1.75 0 1 0 3.5 0a1.75 1.75 0 1 0-3.5 0M330.95 95.4a1.75 1.75 0 1 0 3.5 0a1.75 1.75 0 1 0-3.5 0M331.45 95.4a1.75 1.75 0 1 0 3.5 0a1.75 1.75 0 1 0-3.5 0M331.95 95.4a1.75 1.75 0 1 0 3.5 0a1.75 1.75 0 1 0-3.5 0M332.45 95.4a1.75 1.75 0 1 0 3.5 0a1.75 1.75 0 1 0-3.5 0M332.95 95.4a1.75 1.75 0 1 0 3.5 0a1.75 1.75 0 1 0-3.5 0M333.45 95.4a1.75 1.75 0 1 0 3.5 0a1.75 1.75 0 1 0-3.5 0M333.95 95.4a1.75 1.75 0 1 0 3.5 0a1.75 1.75 0 1 0-3.5 0M334.45 95.4a1.75 1.75 0 1 0 3.5 0a1.75 1.75 0 1 0-3.5 0M334.95 95.4a1.75 1.75 0 1 0 3.5 0a1.75 1.75 0 1 0-3.5 0M335.45 95.4a1.75 1.75 0 1 0 3.5 0a1.75 1.75 0 1 0-3.5 0M335.95 95.4a1.75 1.75 0 1 0 3.5 0a1.75 1.75 0 1 0-3.5 0M336.45 95.4a1.75 1.75 0 1 0 3.5 0a1.75 1.75 0 1 0-3.5 0M336.95 95.4a1.75 1.75 0 1 0 3.5 0a1.75 1.75 0 1 0-3.5 0M337.45 95.4a1.75 1.75 0 1 0 3.5 0a1.75 1.75 0 1 0-3.5 0M337.95 95.4a1.75 1.75 0 1 0 3.5 0a1.75 1.75 0 1 0-3.5 0M338.45 95.4a1.75 1.75 0 1 0 3.5 0a1.75 1.75 0 1 0-3.5 0M338.95 95.4a1.75 1.75 0 1 0 3.5 0a1.75 1.75 0 1 0-3.5 0M339.45 95.4a1.75 1.75 0 1 0 3.5 0a1.75 1.75 0 1 0-3.5 0M339.95 95.4a1.75 1.75 0 1 0 3.5 0a1.75 1.75 0 1 0-3.5 0M340.45 95.4a1.75 1.75 0 1 0 3.5 0a1.75 1.75 0 1 0-3.5 0M340.95 95.4a1.75 1.75 0 1 0 3.5 0a1.75 1.75 0 1 0-3.5 0M341.45 95.4a1.75 1.75 0 1 0 3.5 0a1.75 1.75 0 1 0-3.5 0M341.95 95.4a1.75 1.75 0 1 0 3.5 0a1.75 1.75 0 1 0-3.5 0M342.45 95.4a1.75 1.75 0 1 0 3.5 0a1.75 1.75 0 1 0-3.5 0M342.95 95.4a1.75 1.75 0 1 0 3.5 0a1.75 1.75 0 1 0-3.5 0M343.45 95.4a1.75 1.75 0 1 0 3.5 0a1.75 1.75 0 1 0-3.5 0M343.95 95.4a1.75 1.75 0 1 0 3.5 0a1.75 1.75 0 1 0-3.5 0M344.45 95.4a1.75 1.75 0 1 0 3.5 0a1.75 1.75 0 1 0-3.5 0M344.95 95.4a1.75 1.75 0 1 0 3.5 0a1.75 1.75 0 1 0-3.5 0M345.45 95.4a1.75 1.75 0 1 0 3.5 0a1.75 1.75 0 1 0-3.5 0M345.95 95.4a1.75 1.75 0 1 0 3.5 0a1.75 1.75 0 1 0-3.5 0M346.45 95.4a1.75 1.75 0 1 0 3.5 0a1.75 1.75 0 1 0-3.5 0M346.95 95.4a1.75 1.75 0 1 0 3.5 0a1.75 1.75 0 1 0-3.5 0M347.45 95.4a1.75 1.75 0 1 0 3.5 0a1.75 1.75 0 1 0-3.5 0M347.95 95.4a1.75 1.75 0 1 0 3.5 0a1.75 1.75 0 1 0-3.5 0M348.45 95.4a1.75 1.75 0 1 0 3.5 0a1.75 1.75 0 1 0-3.5 0M348.95 95.4a1.75 1.75 0 1 0 3.5 0a1.75 1.75 0 1 0-3.5 0M349.45 95.4a1.75 1.75 0 1 0 3.5 0a1.75 1.75 0 1 0-3.5 0M349.95 95.4a1.75 1.75 0 1 0 3.5 0a1.75 1.75 0 1 0-3.5 0M350.45 95.4a1.75 1.75 0 1 0 3.5 0a1.75 1.75 0 1 0-3.5 0M350.95 95.4a1.75 1.75 0 1 0 3.5 0a1.75 1.75 0 1 0-3.5 0M351.45 95.4a1.75 1.75 0 1 0 3.5 0a1.75 1.75 0 1 0-3.5 0M351.95 95.4a1.75 1.75 0 1 0 3.5 0a1.75 1.75 0 1 0-3.5 0M352.45 95.4a1.75 1.75 0 1 0 3.5 0a1.75 1.75 0 1 0-3.5 0M352.95 95.4a1.75 1.75 0 1 0 3.5 0a1.75 1.75 0 1 0-3.5 0M353.45 95.4a1.75 1.75 0 1 0 3.5 0a1.75 1.75 0 1 0-3.5 0M353.95 95.4a1.75 1.75 0 1 0 3.5 0a1.75 1.75 0 1 0-3.5 0M354.45 95.4a1.75 1.75 0 1 0 3.5 0a1.75 1.75 0 1 0-3.5 0M354.95 95.4a1.75 1.75 0 1 0 3.5 0a1.75 1.75 0 1 0-3.5 0M355.45 95.4a1.75 1.75 0 1 0 3.5 0a1.75 1.75 0 1 0-3.5 0M355.95 95.4a1.75 1.75 0 1 0 3.5 0a1.75 1.75 0 1 0-3.5 0M356.45 95.4a1.75 1.75 0 1 0 3.5 0a1.75 1.75 0 1 0-3.5 0M356.95 95.4a1.75 1.75 0 1 0 3.5 0a1.75 1.75 0 1 0-3.5 0M357.45 95.4a1.75 1.75 0 1 0 3.5 0a1.75 1.75 0 1 0-3.5 0M357.95 95.4a1.75 1.75 0 1 0 3.5 0a1.75 1.75 0 1 0-3.5 0M358.45 95.4a1.75 1.75 0 1 0 3.5 0a1.75 1.75 0 1 0-3.5 0M359.35 95.4a1.75 1.75 0 1 0 3.5 0a1.75 1.75 0 1 0-3.5 0M360.25 95.4a1.75 1.75 0 1 0 3.5 0a1.75 1.75 0 1 0-3.5 0M361.15 95.4a1.75 1.75 0 1 0 3.5 0a1.75 1.75 0 1 0-3.5 0M362.05 95.4a1.75 1.75 0 1 0 3.5 0a1.75 1.75 0 1 0-3.5 0M362.95 95.4a1.75 1.75 0 1 0 3.5 0a1.75 1.75 0 1 0-3.5 0M363.85 95.4a1.75 1.75 0 1 0 3.5 0a1.75 1.75 0 1 0-3.5 0M364.75 95.4a1.75 1.75 0 1 0 3.5 0a1.75 1.75 0 1 0-3.5 0M365.65 95.4a1.75 1.75 0 1 0 3.5 0a1.75 1.75 0 1 0-3.5 0M366.55 95.4a1.75 1.75 0 1 0 3.5 0a1.75 1.75 0 1 0-3.5 0M367.45 95.4a1.75 1.75 0 1 0 3.5 0a1.75 1.75 0 1 0-3.5 0M368.35 95.4a1.75 1.75 0 1 0 3.5 0a1.75 1.75 0 1 0-3.5 0M369.25 95.4a1.75 1.75 0 1 0 3.5 0a1.75 1.75 0 1 0-3.5 0M370.15 95.4a1.75 1.75 0 1 0 3.5 0a1.75 1.75 0 1 0-3.5 0M371.05 95.4a1.75 1.75 0 1 0 3.5 0a1.75 1.75 0 1 0-3.5 0M371.95 95.4a1.75 1.75 0 1 0 3.5 0a1.75 1.75 0 1 0-3.5 0M372.85 95.4a1.75 1.75 0 1 0 3.5 0a1.75 1.75 0 1 0-3.5 0M373.75 95.4a1.75 1.75 0 1 0 3.5 0a1.75 1.75 0 1 0-3.5 0M374.65 95.4a1.75 1.75 0 1 0 3.5 0a1.75 1.75 0 1 0-3.5 0M375.55 95.4a1.75 1.75 0 1 0 3.5 0a1.75 1.75 0 1 0-3.5 0M376.45 95.4a1.75 1.75 0 1 0 3.5 0a1.75 1.75 0 1 0-3.5 0M377.35 95.4a1.75 1.75 0 1 0 3.5 0a1.75 1.75 0 1 0-3.5 0M378.25 95.4a1.75 1.75 0 1 0 3.5 0a1.75 1.75 0 1 0-3.5 0M379.15 95.4a1.75 1.75 0 1 0 3.5 0a1.75 1.75 0 1 0-3.5 0M380.05 95.4a1.75 1.75 0 1 0 3.5 0a1.75 1.75 0 1 0-3.5 0M380.95 95.4a1.75 1.75 0 1 0 3.5 0a1.75 1.75 0 1 0-3.5 0M381.85 95.4a1.75 1.75 0 1 0 3.5 0a1.75 1.75 0 1 0-3.5 0M382.75 95.4a1.75 1.75 0 1 0 3.5 0a1.75 1.75 0 1 0-3.5 0M383.65 95.4a1.75 1.75 0 1 0 3.5 0a1.75 1.75 0 1 0-3.5 0M384.55 95.4a1.75 1.75 0 1 0 3.5 0a1.75 1.75 0 1 0-3.5 0M385.45 95.4a1.75 1.75 0 1 0 3.5 0a1.75 1.75 0 1 0-3.5 0M386.35 95.4a1.75 1.75 0 1 0 3.5 0a1.75 1.75 0 1 0-3.5 0M387.25 95.4a1.75 1.75 0 1 0 3.5 0a1.75 1.75 0 1 0-3.5 0M388.15 95.4a1.75 1.75 0 1 0 3.5 0a1.75 1.75 0 1 0-3.5 0M389.05 95.4a1.75 1.75 0 1 0 3.5 0a1.75 1.75 0 1 0-3.5 0M389.95 95.4a1.75 1.75 0 1 0 3.5 0a1.75 1.75 0 1 0-3.5 0M390.85 95.4a1.75 1.75 0 1 0 3.5 0a1.75 1.75 0 1 0-3.5 0M391.75 95.4a1.75 1.75 0 1 0 3.5 0a1.75 1.75 0 1 0-3.5 0M392.65 95.4a1.75 1.75 0 1 0 3.5 0a1.75 1.75 0 1 0-3.5 0M393.55 95.4a1.75 1.75 0 1 0 3.5 0a1.75 1.75 0 1 0-3.5 0M394.45 95.4a1.75 1.75 0 1 0 3.5 0a1.75 1.75 0 1 0-3.5 0M395.35 95.4a1.75 1.75 0 1 0 3.5 0a1.75 1.75 0 1 0-3.5 0M396.25 95.4a1.75 1.75 0 1 0 3.5 0a1.75 1.75 0 1 0-3.5 0M397.15 95.4a1.75 1.75 0 1 0 3.5 0a1.75 1.75 0 1 0-3.5 0M398.05 95.4a1.75 1.75 0 1 0 3.5 0a1.75 1.75 0 1 0-3.5 0M398.95 95.4a1.75 1.75 0 1 0 3.5 0a1.75 1.75 0 1 0-3.5 0M399.85 95.4a1.75 1.75 0 1 0 3.5 0a1.75 1.75 0 1 0-3.5 0M400.75 95.4a1.75 1.75 0 1 0 3.5 0a1.75 1.75 0 1 0-3.5 0M401.65 95.4a1.75 1.75 0 1 0 3.5 0a1.75 1.75 0 1 0-3.5 0M402.55 95.4a1.75 1.75 0 1 0 3.5 0a1.75 1.75 0 1 0-3.5 0M403.45 95.4a1.75 1.75 0 1 0 3.5 0a1.75 1.75 0 1 0-3.5 0M404.35 95.4a1.75 1.75 0 1 0 3.5 0a1.75 1.75 0 1 0-3.5 0M405.25 95.4a1.75 1.75 0 1 0 3.5 0a1.75 1.75 0 1 0-3.5 0M406.15 95.4a1.75 1.75 0 1 0 3.5 0a1.75 1.75 0 1 0-3.5 0M407.05 95.4a1.75 1.75 0 1 0 3.5 0a1.75 1.75 0 1 0-3.5 0M407.95 95.4a1.75 1.75 0 1 0 3.5 0a1.75 1.75 0 1 0-3.5 0M408.85 95.4a1.75 1.75 0 1 0 3.5 0a1.75 1.75 0 1 0-3.5 0M409.75 95.4a1.75 1.75 0 1 0 3.5 0a1.75 1.75 0 1 0-3.5 0M410.65 95.4a1.75 1.75 0 1 0 3.5 0a1.75 1.75 0 1 0-3.5 0M411.55 95.4a1.75 1.75 0 1 0 3.5 0a1.75 1.75 0 1 0-3.5 0M412.45 95.4a1.75 1.75 0 1 0 3.5 0a1.75 1.75 0 1 0-3.5 0M413.35 95.4a1.75 1.75 0 1 0 3.5 0a1.75 1.75 0 1 0-3.5 0M414.25 95.4a1.75 1.75 0 1 0 3.5 0a1.75 1.75 0 1 0-3.5 0M415.15 95.4a1.75 1.75 0 1 0 3.5 0a1.75 1.75 0 1 0-3.5 0M416.05 95.4a1.75 1.75 0 1 0 3.5 0a1.75 1.75 0 1 0-3.5 0M416.95 95.4a1.75 1.75 0 1 0 3.5 0a1.75 1.75 0 1 0-3.5 0M417.85 95.4a1.75 1.75 0 1 0 3.5 0a1.75 1.75 0 1 0-3.5 0M418.75 95.4a1.75 1.75 0 1 0 3.5 0a1.75 1.75 0 1 0-3.5 0M419.65 95.4a1.75 1.75 0 1 0 3.5 0a1.75 1.75 0 1 0-3.5 0M420.55 95.4a1.75 1.75 0 1 0 3.5 0a1.75 1.75 0 1 0-3.5 0M421.45 95.4a1.75 1.75 0 1 0 3.5 0a1.75 1.75 0 1 0-3.5 0M422.35 95.4a1.75 1.75 0 1 0 3.5 0a1.75 1.75 0 1 0-3.5 0M423.25 95.4a1.75 1.75 0 1 0 3.5 0a1.75 1.75 0 1 0-3.5 0M424.15 95.4a1.75 1.75 0 1 0 3.5 0a1.75 1.75 0 1 0-3.5 0M425.05 95.4a1.75 1.75 0 1 0 3.5 0a1.75 1.75 0 1 0-3.5 0M425.95 95.4a1.75 1.75 0 1 0 3.5 0a1.75 1.75 0 1 0-3.5 0M426.85 95.4a1.75 1.75 0 1 0 3.5 0a1.75 1.75 0 1 0-3.5 0M427.75 95.4a1.75 1.75 0 1 0 3.5 0a1.75 1.75 0 1 0-3.5 0M428.65 95.4a1.75 1.75 0 1 0 3.5 0a1.75 1.75 0 1 0-3.5 0M429.55 95.4a1.75 1.75 0 1 0 3.5 0a1.75 1.75 0 1 0-3.5 0M430.45 95.4a1.75 1.75 0 1 0 3.5 0a1.75 1.75 0 1 0-3.5 0M431.35 95.4a1.75 1.75 0 1 0 3.5 0a1.75 1.75 0 1 0-3.5 0M432.25 95.4a1.75 1.75 0 1 0 3.5 0a1.75 1.75 0 1 0-3.5 0M433.15 95.4a1.75 1.75 0 1 0 3.5 0a1.75 1.75 0 1 0-3.5 0M434.05 95.4a1.75 1.75 0 1 0 3.5 0a1.75 1.75 0 1 0-3.5 0M434.95 95.4a1.75 1.75 0 1 0 3.5 0a1.75 1.75 0 1 0-3.5 0M435.85 95.4a1.75 1.75 0 1 0 3.5 0a1.75 1.75 0 1 0-3.5 0M436.75 95.4a1.75 1.75 0 1 0 3.5 0a1.75 1.75 0 1 0-3.5 0M437.65 95.4a1.75 1.75 0 1 0 3.5 0a1.75 1.75 0 1 0-3.5 0M438.55 95.4a1.75 1.75 0 1 0 3.5 0a1.75 1.75 0 1 0-3.5 0" fill="none" stroke="#83D5AC" stroke-width="0.75"/>
<path d="M266.45 51.5a1.75 1.75 0 1 0 3.5 0a1.75 1.75 0 1 0-3.5 0M267.35 51.5a1.75 1.75 0 1 0 3.5 0a1.75 1.75 0 1 0-3.5 0M268.25 51.5a1.75 1.75 0 1 0 3.5 0a1.75 1.75 0 1 0-3.5 0M269.15 51.5a1.75 1.75 0 1 0 3.5 0a1.75 1.75 0 1 0-3.5 0M270.05 51.5a1.75 1.75 0 1 0 3.5 0a1.75 1.75 0 1 0-3.5 0M270.95 51.5a1.75 1.75 0 1 0 3.5 0a1.75 1.75 0 1 0-3.5 0M271.85 51.5a1.75 1.75 0 1 0 3.5 0a1.75 1.75 0 1 0-3.5 0M272.75 51.5a1.75 1.75 0 1 0 3.5 0a1.75 1.75 0 1 0-3.5 0M273.65 51.5a1.75 1.75 0 1 0 3.5 0a1.75 1.75 0 1 0-3.5 0M274.55 51.5a1.75 1.75 0 1 0 3.5 0a1.75 1.75 0 1 0-3.5 0M275.45 51.5a1.75 1.75 0 1 0 3.5 0a1.75 1.75 0 1 0-3.5 0M276.35 51.5a1.75 1.75 0 1 0 3.5 0a1.75 1.75 0 1 0-3.5 0M277.25 51.5a1.75 1.75 0 1 0 3.5 0a1.75 1.75 0 1 0-3.5 0M278.15 51.5a1.75 1.75 0 1 0 3.5 0a1.75 1.75 0 1 0-3.5 0M279.05 51.5a1.75 1.75 0 1 0 3.5 0a1.75 1.75 0 1 0-3.5 0M279.95 51.5a1.75 1.75 0 1 0 3.5 0a1.75 1.75 0 1 0-3.5 0M280.85 51.5a1.75 1.75 0 1 0 3.5 0a1.75 1.75 0 1 0-3.5 0M281.75 51.5a1.75 1.75 0 1 0 3.5 0a1.75 1.75 0 1 0-3.5 0M282.65 51.5a1.75 1.75 0 1 0 3.5 0a1.75 1.75 0 1 0-3.5 0M283.55 51.5a1.75 1.75 0 1 0 3.5 0a1.75 1.75 0 1 0-3.5 0M284.45 51.5a1.75 1.75 0 1 0 3.5 0a1.75 1.75 0 1 0-3.5 0M285.35 51.5a1.75 1.75 0 1 0 3.5 0a1.75 1.75 0 1 0-3.5 0M286.25 51.5a1.75 1.75 0 1 0 3.5 0a1.75 1.75 0 1 0-3.5 0M287.15 51.5a1.75 1.75 0 1 0 3.5 0a1.75 1.75 0 1 0-3.5 0M288.05 51.5a1.75 1.75 0 1 0 3.5 0a1.75 1.75 0 1 0-3.5 0M288.95 51.5a1.75 1.75 0 1 0 3.5 0a1.75 1.75 0 1 0-3.5 0M289.85 51.5a1.75 1.75 0 1 0 3.5 0a1.75 1.75 0 1 0-3.5 0M290.75 51.5a1.75 1.75 0 1 0 3.5 0a1.75 1.75 0 1 0-3.5 0M291.65 51.5a1.75 1.75 0 1 0 3.5 0a1.75 1.75 0 1 0-3.5 0M292.55 51.5a1.75 1.75 0 1 0 3.5 0a1.75 1.75 0 1 0-3.5 0M293.45 51.5a1.75 1.75 0 1 0 3.5 0a1.75 1.75 0 1 0-3.5 0M294.35 51.5a1.75 1.75 0 1 0 3.5 0a1.75 1.75 0 1 0-3.5 0M295.25 51.5a1.75 1.75 0 1 0 3.5 0a1.75 1.75 0 1 0-3.5 0M296.15 51.5a1.75 1.75 0 1 0 3.5 0a1.75 1.75 0 1 0-3.5 0M297.05 51.5a1.75 1.75 0 1 0 3.5 0a1.75 1.75 0 1 0-3.5 0M297.95 51.5a1.75 1.75 0 1 0 3.5 0a1.75 1.75 0 1 0-3.5 0M298.85 51.5a1.75 1.75 0 1 0 3.5 0a1.75 1.75 0 1 0-3.5 0M299.75 51.5a1.75 1.75 0 1 0 3.5 0a1.75 1.75 0 1 0-3.5 0M300.65 51.5a1.75 1.75 0 1 0 3.5 0a1.75 1.75 0 1 0-3.5 0M301.55 51.5a1.75 1.75 0 1 0 3.5 0a1.75 1.75 0 1 0-3.5 0M302.45 51.5a1.75 1.75 0 1 0 3.5 0a1.75 1.75 0 1 0-3.5 0M303.35 51.5a1.75 1.75 0 1 0 3.5 0a1.75 1.75 0 1 0-3.5 0M304.25 51.5a1.75 1.75 0 1 0 3.5 0a1.75 1.75 0 1 0-3.5 0M305.15 51.5a1.75 1.75 0 1 0 3.5 0a1.75 1.75 0 1 0-3.5 0M306.05 51.5a1.75 1.75 0 1 0 3.5 0a1.75 1.75 0 1 0-3.5 0M306.95 51.5a1.75 1.75 0 1 0 3.5 0a1.75 1.75 0 1 0-3.5 0M307.85 51.5a1.75 1.75 0 1 0 3.5 0a1.75 1.75 0 1 0-3.5 0M308.75 51.5a1.75 1.75 0 1 0 3.5 0a1.75 1.75 0 1 0-3.5 0M309.65 51.5a1.75 1.75 0 1 0 3.5 0a1.75 1.75 0 1 0-3.5 0M310.55 51.5a1.75 1.75 0 1 0 3.5 0a1.75 1.75 0 1 0-3.5 0M311.45 51.5a1.75 1.75 0 1 0 3.5 0a1.75 1.75 0 1 0-3.5 0M312.35 51.5a1.75 1.75 0 1 0 3.5 0a1.75 1.75 0 1 0-3.5 0M313.25 51.5a1.75 1.75 0 1 0 3.5 0a1.75 1.75 0 1 0-3.5 0M314.15 51.5a1.75 1.75 0 1 0 3.5 0a1.75 1.75 0 1 0-3.5 0M314.75 51a1.75 1.75 0 1 0 3.5 0a1.75 1.75 0 1 0-3.5 0M315.85 48.7a1.75 1.75 0 1 0 3.5 0a1.75 1.75 0 1 0-3.5 0M315.85 44.8a1.75 1.75 0 1 0 3.5 0a1.75 1.75 0 1 0-3.5 0M316.55 36.3a1.75 1.75 0 1 0 3.5 0a1.75 1.75 0 1 0-3.5 0M316.25 28a1.75 1.75 0 1 0 3.5 0a1.75 1.75 0 1 0-3.5 0M317.25 25a1.75 1.75 0 1 0 3.5 0a1.75 1.75 0 1 0-3.5 0M318.35 23.1a1.75 1.75 0 1 0 3.5 0a1.75 1.75 0 1 0-3.5 0M318.95 24.64a1.75 1.75 0 1 0 3.5 0a1.75 1.75 0 1 0-3.5 0M319.3 25.48a1.75 1.75 0 1 0 3.5 0a1.75 1.75 0 1 0-3.5 0M319.65 26.3a1.75 1.75 0 1 0 3.5 0a1.75 1.75 0 1 0-3.5 0M320 27.07a1.75 1.75 0 1 0 3.5 0a1.75 1.75 0 1 0-3.5 0M320.35 27.82a1.75 1.75 0 1 0 3.5 0a1.75 1.75 0 1 0-3.5 0M320.7 28.54a1.75 1.75 0 1 0 3.5 0a1.75 1.75 0 1 0-3.5 0M321.05 29.22a1.75 1.75 0 1 0 3.5 0a1.75 1.75 0 1 0-3.5 0M321.4 29.88a1.75 1.75 0 1 0 3.5 0a1.75 1.75 0 1 0-3.5 0M321.75 30.51a1.75 1.75 0 1 0 3.5 0a1.75 1.75 0 1 0-3.5 0M322.1 31.12a1.75 1.75 0 1 0 3.5 0a1.75 1.75 0 1 0-3.5 0M322.45 31.7a1.75 1.75 0 1 0 3.5 0a1.75 1.75 0 1 0-3.5 0M322.8 32.26a1.75 1.75 0 1 0 3.5 0a1.75 1.75 0 1 0-3.5 0M323.15 32.8a1.75 1.75 0 1 0 3.5 0a1.75 1.75 0 1 0-3.5 0M323.5 33.32a1.75 1.75 0 1 0 3.5 0a1.75 1.75 0 1 0-3.5 0M323.85 33.82a1.75 1.75 0 1 0 3.5 0a1.75 1.75 0 1 0-3.5 0M324.2 34.3a1.75 1.75 0 1 0 3.5 0a1.75 1.75 0 1 0-3.5 0M324.55 34.76a1.75 1.75 0 1 0 3.5 0a1.75 1.75 0 1 0-3.5 0M324.9 35.2a1.75 1.75 0 1 0 3.5 0a1.75 1.75 0 1 0-3.5 0M325.25 35.63a1.75 1.75 0 1 0 3.5 0a1.75 1.75 0 1 0-3.5 0M325.6 36.04a1.75 1.75 0 1 0 3.5 0a1.75 1.75 0 1 0-3.5 0M325.96 36.45a1.75 1.75 0 1 0 3.5 0a1.75 1.75 0 1 0-3.5 0M326.33 36.85a1.75 1.75 0 1 0 3.5 0a1.75 1.75 0 1 0-3.5 0M326.71 37.24a1.75 1.75 0 1 0 3.5 0a1.75 1.75 0 1 0-3.5 0M327.09 37.63a1.75 1.75 0 1 0 3.5 0a1.75 1.75 0 1 0-3.5 0M327.49 38a1.75 1.75 0 1 0 3.5 0a1.75 1.75 0 1 0-3.5 0M327.89 38.37a1.75 1.75 0 1 0 3.5 0a1.75 1.75 0 1 0-3.5 0M328.29 38.73a1.75 1.75 0 1 0 3.5 0a1.75 1.75 0 1 0-3.5 0M328.71 39.09a1.75 1.75 0 1 0 3.5 0a1.75 1.75 0 1 0-3.5 0M329.13 39.43a1.75 1.75 0 1 0 3.5 0a1.75 1.75 0 1 0-3.5 0M329.56 39.77a1.75 1.75 0 1 0 3.5 0a1.75 1.75 0 1 0-3.5 0M330 40.1a1.75 1.75 0 1 0 3.5 0a1.75 1.75 0 1 0-3.5 0M330.44 40.42a1.75 1.75 0 1 0 3.5 0a1.75 1.75 0 1 0-3.5 0M330.89 40.73a1.75 1.75 0 1 0 3.5 0a1.75 1.75 0 1 0-3.5 0M331.35 41.03a1.75 1.75 0 1 0 3.5 0a1.75 1.75 0 1 0-3.5 0M331.81 41.32a1.75 1.75 0 1 0 3.5 0a1.75 1.75 0 1 0-3.5 0M332.27 41.6a1.75 1.75 0 1 0 3.5 0a1.75 1.75 0 1 0-3.5 0M332.75 41.88a1.75 1.75 0 1 0 3.5 0a1.75 1.75 0 1 0-3.5 0M333.23 42.15a1.75 1.75 0 1 0 3.5 0a1.75 1.75 0 1 0-3.5 0M333.71 42.4a1.75 1.75 0 1 0 3.5 0a1.75 1.75 0 1 0-3.5 0M334.19 42.66a1.75 1.75 0 1 0 3.5 0a1.75 1.75 0 1 0-3.5 0M334.69 42.9a1.75 1.75 0 1 0 3.5 0a1.75 1.75 0 1 0-3.5 0M335.18 43.13a1.75 1.75 0 1 0 3.5 0a1.75 1.75 0 1 0-3.5 0M335.68 43.36a1.75 1.75 0 1 0 3.5 0a1.75 1.75 0 1 0-3.5 0M336.18 43.58a1.75 1.75 0 1 0 3.5 0a1.75 1.75 0 1 0-3.5 0M336.69 43.79a1.75 1.75 0 1 0 3.5 0a1.75 1.75 0 1 0-3.5 0M337.2 43.99a1.75 1.75 0 1 0 3.5 0a1.75 1.75 0 1 0-3.5 0M337.71 44.19a1.75 1.75 0 1 0 3.5 0a1.75 1.75 0 1 0-3.5 0M338.22 44.38a1.75 1.75 0 1 0 3.5 0a1.75 1.75 0 1 0-3.5 0M338.74 44.57a1.75 1.75 0 1 0 3.5 0a1.75 1.75 0 1 0-3.5 0M339.26 44.75a1.75 1.75 0 1 0 3.5 0a1.75 1.75 0 1 0-3.5 0M339.78 44.92a1.75 1.75 0 1 0 3.5 0a1.75 1.75 0 1 0-3.5 0M340.3 45.09a1.75 1.75 0 1 0 3.5 0a1.75 1.75 0 1 0-3.5 0M340.83 45.25a1.75 1.75 0 1 0 3.5 0a1.75 1.75 0 1 0-3.5 0M341.35 45.41a1.75 1.75 0 1 0 3.5 0a1.75 1.75 0 1 0-3.5 0M341.88 45.56a1.75 1.75 0 1 0 3.5 0a1.75 1.75 0 1 0-3.5 0M342.41 45.71a1.75 1.75 0 1 0 3.5 0a1.75 1.75 0 1 0-3.5 0M342.94 45.85a1.75 1.75 0 1 0 3.5 0a1.75 1.75 0 1 0-3.5 0M343.47 45.99a1.75 1.75 0 1 0 3.5 0a1.75 1.75 0 1 0-3.5 0M344.01 46.12a1.75 1.75 0 1 0 3.5 0a1.75 1.75 0 1 0-3.5 0M344.54 46.25a1.75 1.75 0 1 0 3.5 0a1.75 1.75 0 1 0-3.5 0M345.07 46.38a1.75 1.75 0 1 0 3.5 0a1.75 1.75 0 1 0-3.5 0M345.61 46.5a1.75 1.75 0 1 0 3.5 0a1.75 1.75 0 1 0-3.5 0M346.15 46.62a1.75 1.75 0 1 0 3.5 0a1.75 1.75 0 1 0-3.5 0M346.68 46.73a1.75 1.75 0 1 0 3.5 0a1.75 1.75 0 1 0-3.5 0M347.22 46.84a1.75 1.75 0 1 0 3.5 0a1.75 1.75 0 1 0-3.5 0M347.76 46.95a1.75 1.75 0 1 0 3.5 0a1.75 1.75 0 1 0-3.5 0M348.3 47.06a1.75 1.75 0 1 0 3.5 0a1.75 1.75 0 1 0-3.5 0M348.84 47.16a1.75 1.75 0 1 0 3.5 0a1.75 1.75 0 1 0-3.5 0M349.38 47.26a1.75 1.75 0 1 0 3.5 0a1.75 1.75 0 1 0-3.5 0M349.92 47.36a1.75 1.75 0 1 0 3.5 0a1.75 1.75 0 1 0-3.5 0M350.46 47.45a1.75 1.75 0 1 0 3.5 0a1.75 1.75 0 1 0-3.5 0M351.01 47.54a1.75 1.75 0 1 0 3.5 0a1.75 1.75 0 1 0-3.5 0M351.55 47.63a1.75 1.75 0 1 0 3.5 0a1.75 1.75 0 1 0-3.5 0M352.09 47.72a1.75 1.75 0 1 0 3.5 0a1.75 1.75 0 1 0-3.5 0M352.64 47.8a1.75 1.75 0 1 0 3.5 0a1.75 1.75 0 1 0-3.5 0M353.18 47.89a1.75 1.75 0 1 0 3.5 0a1.75 1.75 0 1 0-3.5 0M353.72 47.97a1.75 1.75 0 1 0 3.5 0a1.75 1.75 0 1 0-3.5 0M354.27 48.04a1.75 1.75 0 1 0 3.5 0a1.75 1.75 0 1 0-3.5 0M354.81 48.12a1.75 1.75 0 1 0 3.5 0a1.75 1.75 0 1 0-3.5 0M355.36 48.2a1.75 1.75 0 1 0 3.5 0a1.75 1.75 0 1 0-3.5 0M355.9 48.27a1.75 1.75 0 1 0 3.5 0a1.75 1.75 0 1 0-3.5 0M356.45 48.34a1.75 1.75 0 1 0 3.5 0a1.75 1.75 0 1 0-3.5 0M356.99 48.41a1.75 1.75 0 1 0 3.5 0a1.75 1.75 0 1 0-3.5 0M357.54 48.48a1.75 1.75 0 1 0 3.5 0a1.75 1.75 0 1 0-3.5 0M358.08 48.54a1.75 1.75 0 1 0 3.5 0a1.75 1.75 0 1 0-3.5 0M358.63 48.61a1.75 1.75 0 1 0 3.5 0a1.75 1.75 0 1 0-3.5 0M359.53 48.71a1.75 1.75 0 1 0 3.5 0a1.75 1.75 0 1 0-3.5 0M360.43 48.81a1.75 1.75 0 1 0 3.5 0a1.75 1.75 0 1 0-3.5 0M361.33 48.9a1.75 1.75 0 1 0 3.5 0a1.75 1.75 0 1 0-3.5 0M362.23 48.99a1.75 1.75 0 1 0 3.5 0a1.75 1.75 0 1 0-3.5 0M363.13 49.08a1.75 1.75 0 1 0 3.5 0a1.75 1.75 0 1 0-3.5 0M364.03 49.17a1.75 1.75 0 1 0 3.5 0a1.75 1.75 0 1 0-3.5 0M364.93 49.25a1.75 1.75 0 1 0 3.5 0a1.75 1.75 0 1 0-3.5 0M365.83 49.33a1.75 1.75 0 1 0 3.5 0a1.75 1.75 0 1 0-3.5 0M366.73 49.4a1.75 1.75 0 1 0 3.5 0a1.75 1.75 0 1 0-3.5 0M367.63 49.47a1.75 1.75 0 1 0 3.5 0a1.75 1.75 0 1 0-3.5 0M368.53 49.54a1.75 1.75 0 1 0 3.5 0a1.75 1.75 0 1 0-3.5 0M369.43 49.61a1.75 1.75 0 1 0 3.5 0a1.75 1.75 0 1 0-3.5 0M370.33 49.68a1.75 1.75 0 1 0 3.5 0a1.75 1.75 0 1 0-3.5 0M371.23 49.74a1.75 1.75 0 1 0 3.5 0a1.75 1.75 0 1 0-3.5 0M372.13 49.8a1.75 1.75 0 1 0 3.5 0a1.75 1.75 0 1 0-3.5 0M373.03 49.86a1.75 1.75 0 1 0 3.5 0a1.75 1.75 0 1 0-3.5 0M373.93 49.91a1.75 1.75 0 1 0 3.5 0a1.75 1.75 0 1 0-3.5 0M374.83 49.97a1.75 1.75 0 1 0 3.5 0a1.75 1.75 0 1 0-3.5 0M375.73 50.02a1.75 1.75 0 1 0 3.5 0a1.75 1.75 0 1 0-3.5 0M376.63 50.07a1.75 1.75 0 1 0 3.5 0a1.75 1.75 0 1 0-3.5 0M377.53 50.12a1.75 1.75 0 1 0 3.5 0a1.75 1.75 0 1 0-3.5 0M378.43 50.17a1.75 1.75 0 1 0 3.5 0a1.75 1.75 0 1 0-3.5 0M379.33 50.21a1.75 1.75 0 1 0 3.5 0a1.75 1.75 0 1 0-3.5 0M380.23 50.26a1.75 1.75 0 1 0 3.5 0a1.75 1.75 0 1 0-3.5 0M381.13 50.3a1.75 1.75 0 1 0 3.5 0a1.75 1.75 0 1 0-3.5 0M382.03 50.34a1.75 1.75 0 1 0 3.5 0a1.75 1.75 0 1 0-3.5 0M382.93 50.38a1.75 1.75 0 1 0 3.5 0a1.75 1.75 0 1 0-3.5 0M383.83 50.42a1.75 1.75 0 1 0 3.5 0a1.75 1.75 0 1 0-3.5 0M384.73 50.46a1.75 1.75 0 1 0 3.5 0a1.75 1.75 0 1 0-3.5 0M385.63 50.49a1.75 1.75 0 1 0 3.5 0a1.75 1.75 0 1 0-3.5 0M386.53 50.53a1.75 1.75 0 1 0 3.5 0a1.75 1.75 0 1 0-3.5 0M387.43 50.56a1.75 1.75 0 1 0 3.5 0a1.75 1.75 0 1 0-3.5 0M388.33 50.59a1.75 1.75 0 1 0 3.5 0a1.75 1.75 0 1 0-3.5 0M389.23 50.62a1.75 1.75 0 1 0 3.5 0a1.75 1.75 0 1 0-3.5 0M390.13 50.65a1.75 1.75 0 1 0 3.5 0a1.75 1.75 0 1 0-3.5 0M391.03 50.68a1.75 1.75 0 1 0 3.5 0a1.75 1.75 0 1 0-3.5 0M391.93 50.71a1.75 1.75 0 1 0 3.5 0a1.75 1.75 0 1 0-3.5 0M392.83 50.74a1.75 1.75 0 1 0 3.5 0a1.75 1.75 0 1 0-3.5 0M393.73 50.76a1.75 1.75 0 1 0 3.5 0a1.75 1.75 0 1 0-3.5 0M394.63 50.79a1.75 1.75 0 1 0 3.5 0a1.75 1.75 0 1 0-3.5 0M395.53 50.81a1.75 1.75 0 1 0 3.5 0a1.75 1.75 0 1 0-3.5 0M396.43 50.83a1.75 1.75 0 1 0 3.5 0a1.75 1.75 0 1 0-3.5 0M397.33 50.86a1.75 1.75 0 1 0 3.5 0a1.75 1.75 0 1 0-3.5 0M398.23 50.88a1.75 1.75 0 1 0 3.5 0a1.75 1.75 0 1 0-3.5 0M399.13 50.9a1.75 1.75 0 1 0 3.5 0a1.75 1.75 0 1 0-3.5 0M400.03 50.92a1.75 1.75 0 1 0 3.5 0a1.75 1.75 0 1 0-3.5 0M400.93 50.94a1.75 1.75 0 1 0 3.5 0a1.75 1.75 0 1 0-3.5 0M401.83 50.96a1.75 1.75 0 1 0 3.5 0a1.75 1.75 0 1 0-3.5 0M402.73 50.98a1.75 1.75 0 1 0 3.5 0a1.75 1.75 0 1 0-3.5 0M403.63 51a1.75 1.75 0 1 0 3.5 0a1.75 1.75 0 1 0-3.5 0M404.53 51.01a1.75 1.75 0 1 0 3.5 0a1.75 1.75 0 1 0-3.5 0M405.43 51.03a1.75 1.75 0 1 0 3.5 0a1.75 1.75 0 1 0-3.5 0M406.33 51.05a1.75 1.75 0 1 0 3.5 0a1.75 1.75 0 1 0-3.5 0M407.23 51.06a1.75 1.75 0 1 0 3.5 0a1.75 1.75 0 1 0-3.5 0M408.13 51.08a1.75 1.75 0 1 0 3.5 0a1.75 1.75 0 1 0-3.5 0M409.03 51.09a1.75 1.75 0 1 0 3.5 0a1.75 1.75 0 1 0-3.5 0M409.93 51.1a1.75 1.75 0 1 0 3.5 0a1.75 1.75 0 1 0-3.5 0M410.83 51.12a1.75 1.75 0 1 0 3.5 0a1.75 1.75 0 1 0-3.5 0M411.73 51.13a1.75 1.75 0 1 0 3.5 0a1.75 1.75 0 1 0-3.5 0M412.63 51.14a1.75 1.75 0 1 0 3.5 0a1.75 1.75 0 1 0-3.5 0M413.53 51.16a1.75 1.75 0 1 0 3.5 0a1.75 1.75 0 1 0-3.5 0M414.43 51.17a1.75 1.75 0 1 0 3.5 0a1.75 1.75 0 1 0-3.5 0M415.33 51.18a1.75 1.75 0 1 0 3.5 0a1.75 1.75 0 1 0-3.5 0M416.23 51.19a1.75 1.75 0 1 0 3.5 0a1.75 1.75 0 1 0-3.5 0M417.13 51.2a1.75 1.75 0 1 0 3.5 0a1.75 1.75 0 1 0-3.5 0M418.03 51.21a1.75 1.75 0 1 0 3.5 0a1.75 1.75 0 1 0-3.5 0M418.93 51.22a1.75 1.75 0 1 0 3.5 0a1.75 1.75 0 1 0-3.5 0M419.83 51.23a1.75 1.75 0 1 0 3.5 0a1.75 1.75 0 1 0-3.5 0M420.73 51.24a1.75 1.75 0 1 0 3.5 0a1.75 1.75 0 1 0-3.5 0M421.63 51.25a1.75 1.75 0 1 0 3.5 0a1.75 1.75 0 1 0-3.5 0M422.53 51.26a1.75 1.75 0 1 0 3.5 0a1.75 1.75 0 1 0-3.5 0M423.43 51.26a1.75 1.75 0 1 0 3.5 0a1.75 1.75 0 1 0-3.5 0M424.33 51.27a1.75 1.75 0 1 0 3.5 0a1.75 1.75 0 1 0-3.5 0M425.23 51.28a1.75 1.75 0 1 0 3.5 0a1.75 1.75 0 1 0-3.5 0M426.13 51.29a1.75 1.75 0 1 0 3.5 0a1.75 1.75 0 1 0-3.5 0M427.03 51.29a1.75 1.75 0 1 0 3.5 0a1.75 1.75 0 1 0-3.5 0M427.93 51.3a1.75 1.75 0 1 0 3.5 0a1.75 1.75 0 1 0-3.5 0M428.83 51.31a1.75 1.75 0 1 0 3.5 0a1.75 1.75 0 1 0-3.5 0M429.73 51.32a1.75 1.75 0 1 0 3.5 0a1.75 1.75 0 1 0-3.5 0M430.63 51.32a1.75 1.75 0 1 0 3.5 0a1.75 1.75 0 1 0-3.5 0M431.53 51.33a1.75 1.75 0 1 0 3.5 0a1.75 1.75 0 1 0-3.5 0M432.43 51.33a1.75 1.75 0 1 0 3.5 0a1.75 1.75 0 1 0-3.5 0M433.33 51.34a1.75 1.75 0 1 0 3.5 0a1.75 1.75 0 1 0-3.5 0M434.23 51.34a1.75 1.75 0 1 0 3.5 0a1.75 1.75 0 1 0-3.5 0M435.13 51.35a1.75 1.75 0 1 0 3.5 0a1.75 1.75 0 1 0-3.5 0M436.03 51.35a1.75 1.75 0 1 0 3.5 0a1.75 1.75 0 1 0-3.5 0M436.93 51.36a1.75 1.75 0 1 0 3.5 0a1.75 1.75 0 1 0-3.5 0M437.83 51.36a1.75 1.75 0 1 0 3.5 0a1.75 1.75 0 1 0-3.5 0" fill="none" stroke="#F26B3A" stroke-width="0.75"/>
<circle cx="321.3" cy="92.79" r="1.75" fill="none" stroke="#83D5AC" stroke-width="0.75"/>
<circle cx="322.5" cy="93.89" r="1.75" fill="none" stroke="#83D5AC" stroke-width="0.75"/>
<circle cx="323.7" cy="94.52" r="1.75" fill="none" stroke="#83D5AC" stroke-width="0.75"/>
<circle cx="324.9" cy="94.89" r="1.75" fill="none" stroke="#83D5AC" stroke-width="0.75"/>
<circle cx="326.1" cy="95.11" r="1.75" fill="none" stroke="#83D5AC" stroke-width="0.75"/>
<circle cx="327.3" cy="95.23" r="1.75" fill="none" stroke="#83D5AC" stroke-width="0.75"/>
<circle cx="328.5" cy="95.3" r="1.75" fill="none" stroke="#83D5AC" stroke-width="0.75"/>
<circle cx="329.7" cy="95.34" r="1.75" fill="none" stroke="#83D5AC" stroke-width="0.75"/>
<circle cx="321.3" cy="135.79" r="1.75" fill="none" stroke="#6BA6BF" stroke-width="0.75"/>
<circle cx="322.5" cy="136.89" r="1.75" fill="none" stroke="#6BA6BF" stroke-width="0.75"/>
<circle cx="323.7" cy="137.52" r="1.75" fill="none" stroke="#6BA6BF" stroke-width="0.75"/>
<circle cx="324.9" cy="137.89" r="1.75" fill="none" stroke="#6BA6BF" stroke-width="0.75"/>
<circle cx="326.1" cy="138.11" r="1.75" fill="none" stroke="#6BA6BF" stroke-width="0.75"/>
<circle cx="327.3" cy="138.23" r="1.75" fill="none" stroke="#6BA6BF" stroke-width="0.75"/>
<circle cx="328.5" cy="138.3" r="1.75" fill="none" stroke="#6BA6BF" stroke-width="0.75"/>
<circle cx="329.7" cy="138.34" r="1.75" fill="none" stroke="#6BA6BF" stroke-width="0.75"/>
<circle cx="355.4" cy="14.3" r="1.9" fill="none" stroke="#F26B3A" stroke-width="0.8"/>
<text x="363.6" y="16.7" font-size="6.9" text-anchor="start" fill="#151515" font-weight="bold">TiO<tspan dy="1.93" font-size="4.69">2</tspan><tspan dy="-1.93">, τ</tspan><tspan dy="1.93" font-size="4.69">ave</tspan><tspan dy="-1.93">=6.28 ns</tspan></text>
<circle cx="355.4" cy="25.2" r="1.9" fill="none" stroke="#83D5AC" stroke-width="0.8"/>
<text x="363.6" y="27.6" font-size="6.9" text-anchor="start" fill="#151515" font-weight="bold">TiO<tspan dy="1.93" font-size="4.69">2</tspan><tspan dy="-1.93">/C</tspan><tspan dy="1.93" font-size="4.69">3</tspan><tspan dy="-1.93">N</tspan><tspan dy="1.93" font-size="4.69">4</tspan><tspan dy="-1.93">, τ</tspan><tspan dy="1.93" font-size="4.69">ave</tspan><tspan dy="-1.93">=1.61 ns</tspan></text>
<circle cx="355.4" cy="36" r="1.9" fill="none" stroke="#6BA6BF" stroke-width="0.8"/>
<text x="363.6" y="38.4" font-size="6.9" text-anchor="start" fill="#151515" font-weight="bold">TiO<tspan dy="1.93" font-size="4.69">2</tspan><tspan dy="-1.93">/C</tspan><tspan dy="1.93" font-size="4.69">2</tspan><tspan dy="-1.93">N, τ</tspan><tspan dy="1.93" font-size="4.69">ave</tspan><tspan dy="-1.93">=0.97 ns</tspan></text>
<rect x="266.8" y="3.5" width="174.5" height="141" fill="none" stroke="#151515" stroke-width="1.5"/>
<path d="M516.05 145.4v2.8M548.16 145.4v2.8M580.27 145.4v2.8M612.38 145.4v2.8M644.49 145.4v2.8M676.6 145.4v2.8" stroke="#151515" stroke-width="1.3"/>
<path d="M500 145.4v1.8M532.11 145.4v1.8M564.22 145.4v1.8M596.33 145.4v1.8M628.44 145.4v1.8M660.55 145.4v1.8" stroke="#151515" stroke-width="1.3"/>
<path d="M500 145.2h-2.8M500 104.6h-2.8M500 64h-2.8M500 23.4h-2.8" stroke="#151515" stroke-width="1.3"/>
<path d="M500 124.9h-1.8M500 84.3h-1.8M500 43.7h-1.8" stroke="#151515" stroke-width="1.3"/>
<text x="516.05" y="156.6" font-size="9.3" text-anchor="middle" fill="#151515" font-weight="bold">60</text>
<text x="548.16" y="156.6" font-size="9.3" text-anchor="middle" fill="#151515" font-weight="bold">120</text>
<text x="580.27" y="156.6" font-size="9.3" text-anchor="middle" fill="#151515" font-weight="bold">180</text>
<text x="612.38" y="156.6" font-size="9.3" text-anchor="middle" fill="#151515" font-weight="bold">240</text>
<text x="644.49" y="156.6" font-size="9.3" text-anchor="middle" fill="#151515" font-weight="bold">300</text>
<text x="676.6" y="156.6" font-size="9.3" text-anchor="middle" fill="#151515" font-weight="bold">360</text>
<text x="495.8" y="148.3" font-size="9.4" text-anchor="end" fill="#151515" font-weight="bold">0</text>
<text x="495.8" y="107.7" font-size="9.4" text-anchor="end" fill="#151515" font-weight="bold">2</text>
<text x="495.8" y="67.1" font-size="9.4" text-anchor="end" fill="#151515" font-weight="bold">4</text>
<text x="495.8" y="26.5" font-size="9.4" text-anchor="end" fill="#151515" font-weight="bold">6</text>
<text x="588.5" y="167.9" font-size="12" text-anchor="middle" fill="#151515" font-weight="bold">Time (s)</text>
<text x="486" y="76" font-size="12" text-anchor="middle" fill="#151515" font-weight="bold" transform="rotate(-90 486 76)">Current (<tspan font-style="italic">μ</tspan>A/cm<tspan dy="-4.4" font-size="7.8">2</tspan><tspan dy="4.4">)</tspan></text>
<path d="M500 139.4L501 139.58L502 139.76L503 139.94L504 140.12L505 140.31L506 140.49L507 140.67L508 140.85L509 141.03L510 141.21L511 141.39L512 141.58L513 141.76L514 141.94L515 142.12L516 142.3L516 142.3L516.4 122L516.89 122.08L517.39 122.15L517.88 122.22L518.38 122.3L518.87 122.38L519.36 122.45L519.86 122.53L520.35 122.6L520.84 122.67L521.34 122.75L521.83 122.83L522.32 122.9L522.82 122.98L523.31 123.05L523.81 123.12L524.3 123.2L524.79 123.28L525.29 123.35L525.78 123.42L526.27 123.5L526.77 123.58L527.26 123.65L527.76 123.73L528.25 123.8L528.74 123.88L529.24 123.95L529.73 124.03L530.22 124.1L530.72 124.18L531.21 124.25L531.71 124.33L532.2 124.4L532.4 134.4L532.8 136.41L533.2 137.82L533.6 138.83L534 139.55L534.4 140.09L534.8 140.5L535.2 140.81L535.6 141.07L536 141.28L536.4 141.45L536.8 141.6L537.2 141.74L537.6 141.86L538 141.96L538.4 142.06L538.8 142.15L539.2 142.23L539.6 142.31L540 142.38L540.4 142.45L540.8 142.51L541.2 142.57L541.6 142.62L542 142.67L542.4 142.72L542.8 142.76L543.2 142.8L543.6 142.84L544 142.88L544.4 142.91L544.8 142.94L545.2 142.97L545.6 143L546 143.03L546.4 143.05L546.8 143.07L547.2 143.09L547.6 143.11L548 143.13L548 143.4L548.4 128.6L548.89 127.82L549.39 127.32L549.88 126.99L550.38 126.78L550.87 126.65L551.36 126.56L551.86 126.5L552.35 126.47L552.84 126.44L553.34 126.43L553.83 126.42L554.32 126.41L554.82 126.41L555.31 126.4L555.81 126.4L556.3 126.4L556.79 126.4L557.29 126.4L557.78 126.4L558.27 126.4L558.77 126.4L559.26 126.4L559.76 126.4L560.25 126.4L560.74 126.4L561.24 126.4L561.73 126.4L562.22 126.4L562.72 126.4L563.21 126.4L563.71 126.4L564.2 126.4L564.4 134.6L564.8 136.61L565.2 138.02L565.6 139.03L566 139.75L566.4 140.29L566.8 140.7L567.2 141.01L567.6 141.27L568 141.48L568.4 141.65L568.8 141.8L569.2 141.94L569.6 142.06L570 142.16L570.4 142.26L570.8 142.35L571.2 142.43L571.6 142.51L572 142.58L572.4 142.65L572.8 142.71L573.2 142.77L573.6 142.82L574 142.87L574.4 142.92L574.8 142.96L575.2 143L575.6 143.04L576 143.08L576.4 143.11L576.8 143.14L577.2 143.17L577.6 143.2L578 143.23L578.4 143.25L578.8 143.27L579.2 143.29L579.6 143.31L580 143.33L580 143.6L580.4 130.6L580.89 129.8L581.39 129.27L581.88 128.92L582.38 128.68L582.87 128.52L583.36 128.41L583.86 128.33L584.35 128.27L584.84 128.22L585.34 128.18L585.83 128.14L586.32 128.11L586.82 128.08L587.31 128.05L587.81 128.03L588.3 128L588.79 127.98L589.29 127.95L589.78 127.93L590.27 127.9L590.77 127.88L591.26 127.85L591.76 127.83L592.25 127.8L592.74 127.78L593.24 127.75L593.73 127.73L594.22 127.7L594.72 127.68L595.21 127.65L595.71 127.63L596.2 127.6L596.4 134.8L596.8 136.81L597.2 138.22L597.6 139.23L598 139.95L598.4 140.49L598.8 140.9L599.2 141.21L599.6 141.47L600 141.68L600.4 141.85L600.8 142L601.2 142.14L601.6 142.26L602 142.36L602.4 142.46L602.8 142.55L603.2 142.63L603.6 142.71L604 142.78L604.4 142.85L604.8 142.91L605.2 142.97L605.6 143.02L606 143.07L606.4 143.12L606.8 143.16L607.2 143.2L607.6 143.24L608 143.28L608.4 143.31L608.8 143.34L609.2 143.37L609.6 143.4L610 143.43L610.4 143.45L610.8 143.47L611.2 143.49L611.6 143.51L612 143.53L612 143.8L612.4 131.8L612.89 130.99L613.39 130.45L613.88 130.1L614.38 129.86L614.87 129.69L615.36 129.57L615.86 129.48L616.35 129.42L616.84 129.36L617.34 129.32L617.83 129.27L618.32 129.24L618.82 129.2L619.31 129.17L619.81 129.13L620.3 129.1L620.79 129.07L621.29 129.04L621.78 129.01L622.27 128.98L622.77 128.94L623.26 128.91L623.76 128.88L624.25 128.85L624.74 128.82L625.24 128.79L625.73 128.76L626.22 128.73L626.72 128.69L627.21 128.66L627.71 128.63L628.2 128.6L628.4 135L628.8 137.01L629.2 138.42L629.6 139.43L630 140.15L630.4 140.69L630.8 141.1L631.2 141.41L631.6 141.67L632 141.88L632.4 142.05L632.8 142.2L633.2 142.34L633.6 142.46L634 142.56L634.4 142.66L634.8 142.75L635.2 142.83L635.6 142.91L636 142.98L636.4 143.05L636.8 143.11L637.2 143.17L637.6 143.22L638 143.27L638.4 143.32L638.8 143.36L639.2 143.4L639.6 143.44L640 143.48L640.4 143.51L640.8 143.54L641.2 143.57L641.6 143.6L642 143.63L642.4 143.65L642.8 143.67L643.2 143.69L643.6 143.71L644 143.73L644 144L644.4 132.8L644.89 131.98L645.39 131.43L645.88 131.06L646.38 130.81L646.87 130.63L647.36 130.5L647.86 130.4L648.35 130.32L648.84 130.25L649.34 130.19L649.83 130.14L650.32 130.09L650.82 130.04L651.31 129.99L651.81 129.95L652.3 129.9L652.79 129.86L653.29 129.81L653.78 129.77L654.27 129.73L654.77 129.68L655.26 129.64L655.76 129.59L656.25 129.55L656.74 129.51L657.24 129.46L657.73 129.42L658.22 129.38L658.72 129.33L659.21 129.29L659.71 129.24L660.2 129.2L660.4 135.3L660.8 137.31L661.2 138.72L661.6 139.73L662 140.45L662.4 140.99L662.8 141.4L663.2 141.71L663.6 141.97L664 142.18L664.4 142.35L664.8 142.5L665.2 142.64L665.6 142.76L666 142.86L666.4 142.96L666.8 143.05L667.2 143.13L667.6 143.21L668 143.28L668.4 143.35L668.8 143.41L669.2 143.47L669.6 143.52L670 143.57L670.4 143.62L670.8 143.66L671.2 143.7L671.6 143.74L672 143.78L672.4 143.81L672.8 143.84L673.2 143.87L673.6 143.9L674 143.93L674.4 143.95L674.8 143.97L675.2 143.99L675.6 144.01L676 144.03" fill="none" stroke="#F26B3A" stroke-width="0.9" stroke-linejoin="round"/>
<path d="M500 139.4L501 139.57L502 139.74L503 139.91L504 140.07L505 140.24L506 140.41L507 140.58L508 140.75L509 140.92L510 141.09L511 141.26L512 141.43L513 141.59L514 141.76L515 141.93L516 142.1L516 142.1L516.4 49L516.89 49.05L517.39 49.1L517.88 49.15L518.38 49.2L518.87 49.25L519.36 49.3L519.86 49.35L520.35 49.4L520.84 49.45L521.34 49.5L521.83 49.55L522.32 49.6L522.82 49.65L523.31 49.7L523.81 49.75L524.3 49.8L524.79 49.85L525.29 49.9L525.78 49.95L526.27 50L526.77 50.05L527.26 50.1L527.76 50.15L528.25 50.2L528.74 50.25L529.24 50.3L529.73 50.35L530.22 50.4L530.72 50.45L531.21 50.5L531.71 50.55L532.2 50.6L532.4 130.4L532.8 133.08L533.2 134.96L533.6 136.3L534 137.27L534.4 137.99L534.8 138.53L535.2 138.95L535.6 139.29L536 139.57L536.4 139.8L536.8 140.01L537.2 140.18L537.6 140.34L538 140.49L538.4 140.62L538.8 140.74L539.2 140.85L539.6 140.95L540 141.04L540.4 141.13L540.8 141.21L541.2 141.29L541.6 141.36L542 141.43L542.4 141.49L542.8 141.55L543.2 141.61L543.6 141.66L544 141.71L544.4 141.75L544.8 141.79L545.2 141.83L545.6 141.87L546 141.9L546.4 141.93L546.8 141.96L547.2 141.99L547.6 142.02L548 142.04L548 142.4L548.4 56.7L548.89 55.89L549.39 55.36L549.88 55.01L550.38 54.77L550.87 54.61L551.36 54.49L551.86 54.41L552.35 54.34L552.84 54.29L553.34 54.25L553.83 54.21L554.32 54.17L554.82 54.14L555.31 54.11L555.81 54.08L556.3 54.05L556.79 54.02L557.29 53.99L557.78 53.97L558.27 53.94L558.77 53.91L559.26 53.88L559.76 53.85L560.25 53.83L560.74 53.8L561.24 53.77L561.73 53.74L562.22 53.71L562.72 53.68L563.21 53.66L563.71 53.63L564.2 53.6L564.4 130.6L564.8 133.28L565.2 135.16L565.6 136.5L566 137.47L566.4 138.19L566.8 138.73L567.2 139.15L567.6 139.49L568 139.77L568.4 140L568.8 140.21L569.2 140.38L569.6 140.54L570 140.69L570.4 140.82L570.8 140.94L571.2 141.05L571.6 141.15L572 141.24L572.4 141.33L572.8 141.41L573.2 141.49L573.6 141.56L574 141.63L574.4 141.69L574.8 141.75L575.2 141.81L575.6 141.86L576 141.91L576.4 141.95L576.8 141.99L577.2 142.03L577.6 142.07L578 142.1L578.4 142.13L578.8 142.16L579.2 142.19L579.6 142.22L580 142.24L580 142.6L580.4 59.2L580.89 58.4L581.39 57.88L581.88 57.54L582.38 57.31L582.87 57.15L583.36 57.05L583.86 56.97L584.35 56.92L584.84 56.87L585.34 56.84L585.83 56.81L586.32 56.79L586.82 56.76L587.31 56.74L587.81 56.72L588.3 56.7L588.79 56.68L589.29 56.66L589.78 56.64L590.27 56.63L590.77 56.61L591.26 56.59L591.76 56.57L592.25 56.55L592.74 56.53L593.24 56.51L593.73 56.49L594.22 56.48L594.72 56.46L595.21 56.44L595.71 56.42L596.2 56.4L596.4 130.8L596.8 133.48L597.2 135.36L597.6 136.7L598 137.67L598.4 138.39L598.8 138.93L599.2 139.35L599.6 139.69L600 139.97L600.4 140.2L600.8 140.41L601.2 140.58L601.6 140.74L602 140.89L602.4 141.02L602.8 141.14L603.2 141.25L603.6 141.35L604 141.44L604.4 141.53L604.8 141.61L605.2 141.69L605.6 141.76L606 141.83L606.4 141.89L606.8 141.95L607.2 142.01L607.6 142.06L608 142.11L608.4 142.15L608.8 142.19L609.2 142.23L609.6 142.27L610 142.3L610.4 142.33L610.8 142.36L611.2 142.39L611.6 142.42L612 142.44L612 142.8L612.4 61.6L612.89 60.79L613.39 60.25L613.88 59.9L614.38 59.66L614.87 59.49L615.36 59.37L615.86 59.28L616.35 59.22L616.84 59.16L617.34 59.12L617.83 59.07L618.32 59.04L618.82 59L619.31 58.97L619.81 58.93L620.3 58.9L620.79 58.87L621.29 58.84L621.78 58.81L622.27 58.78L622.77 58.74L623.26 58.71L623.76 58.68L624.25 58.65L624.74 58.62L625.24 58.59L625.73 58.56L626.22 58.53L626.72 58.49L627.21 58.46L627.71 58.43L628.2 58.4L628.4 131L628.8 133.68L629.2 135.56L629.6 136.9L630 137.87L630.4 138.59L630.8 139.13L631.2 139.55L631.6 139.89L632 140.17L632.4 140.4L632.8 140.61L633.2 140.78L633.6 140.94L634 141.09L634.4 141.22L634.8 141.34L635.2 141.45L635.6 141.55L636 141.64L636.4 141.73L636.8 141.81L637.2 141.89L637.6 141.96L638 142.03L638.4 142.09L638.8 142.15L639.2 142.21L639.6 142.26L640 142.31L640.4 142.35L640.8 142.39L641.2 142.43L641.6 142.47L642 142.5L642.4 142.53L642.8 142.56L643.2 142.59L643.6 142.62L644 142.64L644 143L644.4 63.2L644.89 62.39L645.39 61.85L645.88 61.5L646.38 61.26L646.87 61.09L647.36 60.97L647.86 60.88L648.35 60.82L648.84 60.76L649.34 60.72L649.83 60.67L650.32 60.64L650.82 60.6L651.31 60.57L651.81 60.53L652.3 60.5L652.79 60.47L653.29 60.44L653.78 60.41L654.27 60.38L654.77 60.34L655.26 60.31L655.76 60.28L656.25 60.25L656.74 60.22L657.24 60.19L657.73 60.16L658.22 60.13L658.72 60.09L659.21 60.06L659.71 60.03L660.2 60L660.4 131.2L660.8 133.88L661.2 135.76L661.6 137.1L662 138.07L662.4 138.79L662.8 139.33L663.2 139.75L663.6 140.09L664 140.37L664.4 140.6L664.8 140.81L665.2 140.98L665.6 141.14L666 141.29L666.4 141.42L666.8 141.54L667.2 141.65L667.6 141.75L668 141.84L668.4 141.93L668.8 142.01L669.2 142.09L669.6 142.16L670 142.23L670.4 142.29L670.8 142.35L671.2 142.41L671.6 142.46L672 142.51L672.4 142.55L672.8 142.59L673.2 142.63L673.6 142.67L674 142.7L674.4 142.73L674.8 142.76L675.2 142.79L675.6 142.82L676 142.84" fill="none" stroke="#83D5AC" stroke-width="0.9" stroke-linejoin="round"/>
<path d="M500 139L501 139.19L502 139.38L503 139.56L504 139.75L505 139.94L506 140.12L507 140.31L508 140.5L509 140.69L510 140.88L511 141.06L512 141.25L513 141.44L514 141.62L515 141.81L516 142L516 142L516.4 37.6L516.89 37.72L517.39 37.84L517.88 37.96L518.38 38.08L518.87 38.19L519.36 38.31L519.86 38.43L520.35 38.55L520.84 38.67L521.34 38.79L521.83 38.91L522.32 39.02L522.82 39.14L523.31 39.26L523.81 39.38L524.3 39.5L524.79 39.62L525.29 39.74L525.78 39.86L526.27 39.98L526.77 40.09L527.26 40.21L527.76 40.33L528.25 40.45L528.74 40.57L529.24 40.69L529.73 40.81L530.22 40.92L530.72 41.04L531.21 41.16L531.71 41.28L532.2 41.4L532.4 130.7L532.8 133.72L533.2 135.83L533.6 137.34L534 138.43L534.4 139.23L534.8 139.85L535.2 140.32L535.6 140.7L536 141.02L536.4 141.28L536.8 141.51L537.2 141.71L537.6 141.89L538 142.05L538.4 142.19L538.8 142.33L539.2 142.45L539.6 142.57L540 142.67L540.4 142.77L540.8 142.87L541.2 142.95L541.6 143.03L542 143.11L542.4 143.18L542.8 143.25L543.2 143.31L543.6 143.36L544 143.42L544.4 143.47L544.8 143.52L545.2 143.56L545.6 143.6L546 143.64L546.4 143.68L546.8 143.71L547.2 143.74L547.6 143.77L548 143.8L548 144.2L548.4 44.2L548.89 43.5L549.39 43.07L549.88 42.82L550.38 42.68L550.87 42.62L551.36 42.61L551.86 42.63L552.35 42.67L552.84 42.72L553.34 42.78L553.83 42.84L554.32 42.91L554.82 42.98L555.31 43.05L555.81 43.13L556.3 43.2L556.79 43.28L557.29 43.35L557.78 43.43L558.27 43.5L558.77 43.58L559.26 43.65L559.76 43.73L560.25 43.8L560.74 43.88L561.24 43.95L561.73 44.03L562.22 44.1L562.72 44.18L563.21 44.25L563.71 44.33L564.2 44.4L564.4 130.5L564.8 133.52L565.2 135.63L565.6 137.14L566 138.23L566.4 139.03L566.8 139.65L567.2 140.12L567.6 140.5L568 140.82L568.4 141.08L568.8 141.31L569.2 141.51L569.6 141.69L570 141.85L570.4 141.99L570.8 142.13L571.2 142.25L571.6 142.37L572 142.47L572.4 142.57L572.8 142.67L573.2 142.75L573.6 142.83L574 142.91L574.4 142.98L574.8 143.05L575.2 143.11L575.6 143.16L576 143.22L576.4 143.27L576.8 143.32L577.2 143.36L577.6 143.4L578 143.44L578.4 143.48L578.8 143.51L579.2 143.54L579.6 143.57L580 143.6L580 144L580.4 47.8L580.89 47.08L581.39 46.64L581.88 46.38L582.38 46.23L582.87 46.16L583.36 46.13L583.86 46.14L584.35 46.17L584.84 46.21L585.34 46.25L585.83 46.31L586.32 46.36L586.82 46.42L587.31 46.48L587.81 46.54L588.3 46.6L588.79 46.66L589.29 46.73L589.78 46.79L590.27 46.85L590.77 46.91L591.26 46.98L591.76 47.04L592.25 47.1L592.74 47.16L593.24 47.23L593.73 47.29L594.22 47.35L594.72 47.41L595.21 47.48L595.71 47.54L596.2 47.6L596.4 130.4L596.8 133.42L597.2 135.53L597.6 137.04L598 138.13L598.4 138.93L598.8 139.55L599.2 140.02L599.6 140.4L600 140.72L600.4 140.98L600.8 141.21L601.2 141.41L601.6 141.59L602 141.75L602.4 141.89L602.8 142.03L603.2 142.15L603.6 142.27L604 142.37L604.4 142.47L604.8 142.57L605.2 142.65L605.6 142.73L606 142.81L606.4 142.88L606.8 142.95L607.2 143.01L607.6 143.06L608 143.12L608.4 143.17L608.8 143.22L609.2 143.26L609.6 143.3L610 143.34L610.4 143.38L610.8 143.41L611.2 143.44L611.6 143.47L612 143.5L612 143.9L612.4 50.6L612.89 49.84L613.39 49.35L613.88 49.05L614.38 48.86L614.87 48.74L615.36 48.67L615.86 48.63L616.35 48.62L616.84 48.61L617.34 48.62L617.83 48.62L618.32 48.64L618.82 48.65L619.31 48.67L619.81 48.68L620.3 48.7L620.79 48.72L621.29 48.74L621.78 48.76L622.27 48.78L622.77 48.79L623.26 48.81L623.76 48.83L624.25 48.85L624.74 48.87L625.24 48.89L625.73 48.91L626.22 48.93L626.72 48.94L627.21 48.96L627.71 48.98L628.2 49L628.4 130.4L628.8 133.42L629.2 135.53L629.6 137.04L630 138.13L630.4 138.93L630.8 139.55L631.2 140.02L631.6 140.4L632 140.72L632.4 140.98L632.8 141.21L633.2 141.41L633.6 141.59L634 141.75L634.4 141.89L634.8 142.03L635.2 142.15L635.6 142.27L636 142.37L636.4 142.47L636.8 142.57L637.2 142.65L637.6 142.73L638 142.81L638.4 142.88L638.8 142.95L639.2 143.01L639.6 143.06L640 143.12L640.4 143.17L640.8 143.22L641.2 143.26L641.6 143.3L642 143.34L642.4 143.38L642.8 143.41L643.2 143.44L643.6 143.47L644 143.5L644 143.9L644.4 52.6L644.89 51.86L645.39 51.39L645.88 51.1L646.38 50.93L646.87 50.83L647.36 50.78L647.86 50.77L648.35 50.77L648.84 50.78L649.34 50.8L649.83 50.83L650.32 50.86L650.82 50.89L651.31 50.93L651.81 50.97L652.3 51L652.79 51.04L653.29 51.08L653.78 51.11L654.27 51.15L654.77 51.19L655.26 51.23L655.76 51.26L656.25 51.3L656.74 51.34L657.24 51.38L657.73 51.41L658.22 51.45L658.72 51.49L659.21 51.53L659.71 51.56L660.2 51.6L660.4 130.4L660.8 133.42L661.2 135.53L661.6 137.04L662 138.13L662.4 138.93L662.8 139.55L663.2 140.02L663.6 140.4L664 140.72L664.4 140.98L664.8 141.21L665.2 141.41L665.6 141.59L666 141.75L666.4 141.89L666.8 142.03L667.2 142.15L667.6 142.27L668 142.37L668.4 142.47L668.8 142.57L669.2 142.65L669.6 142.73L670 142.81L670.4 142.88L670.8 142.95L671.2 143.01L671.6 143.06L672 143.12L672.4 143.17L672.8 143.22L673.2 143.26L673.6 143.3L674 143.34L674.4 143.38L674.8 143.41L675.2 143.44L675.6 143.47L676 143.5" fill="none" stroke="#6BA6BF" stroke-width="0.9" stroke-linejoin="round"/>
<line x1="503.6" y1="9.4" x2="513" y2="9.4" stroke="#F26B3A" stroke-width="1.2"/>
<text x="515.6" y="11.7" font-size="6.5" text-anchor="start" fill="#151515" font-weight="bold">TiO<tspan dy="1.82" font-size="4.42">2</tspan></text>
<line x1="503.6" y1="20" x2="513" y2="20" stroke="#83D5AC" stroke-width="1.2"/>
<text x="515.6" y="22.3" font-size="6.5" text-anchor="start" fill="#151515" font-weight="bold">TiO<tspan dy="1.82" font-size="4.42">2</tspan><tspan dy="-1.82">/C</tspan><tspan dy="1.82" font-size="4.42">3</tspan><tspan dy="-1.82">N</tspan><tspan dy="1.82" font-size="4.42">4</tspan></text>
<line x1="503.6" y1="30" x2="513" y2="30" stroke="#6BA6BF" stroke-width="1.2"/>
<text x="515.6" y="32.3" font-size="6.5" text-anchor="start" fill="#151515" font-weight="bold">TiO<tspan dy="1.82" font-size="4.42">2</tspan><tspan dy="-1.82">/C</tspan><tspan dy="1.82" font-size="4.42">2</tspan><tspan dy="-1.82">N</tspan></text>
<rect x="500" y="3.5" width="176.6" height="141.9" fill="none" stroke="#151515" stroke-width="1.5"/>
<path d="M34 329.4h-2.8M34 294.4h-2.8M34 259.4h-2.8M34 224.4h-2.8M34 189.4h-2.8" stroke="#151515" stroke-width="1.3"/>
<path d="M34 311.9h-1.8M34 276.9h-1.8M34 241.9h-1.8M34 206.9h-1.8" stroke="#151515" stroke-width="1.3"/>
<text x="29.8" y="332.6" font-size="9.4" text-anchor="end" fill="#151515" font-weight="bold">0.0</text>
<text x="29.8" y="297.6" font-size="9.4" text-anchor="end" fill="#151515" font-weight="bold">0.2</text>
<text x="29.8" y="262.6" font-size="9.4" text-anchor="end" fill="#151515" font-weight="bold">0.4</text>
<text x="29.8" y="227.6" font-size="9.4" text-anchor="end" fill="#151515" font-weight="bold">0.6</text>
<text x="29.8" y="192.6" font-size="9.4" text-anchor="end" fill="#151515" font-weight="bold">0.8</text>
<text x="12.2" y="259.2" font-size="12" text-anchor="middle" fill="#151515" font-weight="bold" transform="rotate(-90 12.2 259.2)"><tspan font-style="italic">k'</tspan> (min<tspan dy="-4.4" font-size="7.8">−1</tspan><tspan dy="4.4">)</tspan></text>
<rect x="48" y="314.88" width="15.4" height="14.52" fill="#EE9272"/>
<rect x="69.9" y="295.62" width="15.4" height="33.77" fill="#ACE5C7"/>
<rect x="91.8" y="295.62" width="15.4" height="33.77" fill="#A8CBD5"/>
<rect x="135.6" y="276.02" width="15.4" height="53.38" fill="#EE9272"/>
<rect x="157.5" y="238.4" width="15.4" height="91" fill="#ACE5C7"/>
<rect x="179.4" y="221.42" width="15.4" height="107.97" fill="#A8CBD5"/>
<path d="M55.7 314v2M54.5 314h2.4M54.5 316h2.4" stroke="#888" stroke-width="0.6" fill="none"/>
<circle cx="51.2" cy="314.6" r="1.6" fill="#e6e6e6" stroke="#808080" stroke-width="0.7"/>
<circle cx="60" cy="315.4" r="1.6" fill="#e6e6e6" stroke="#808080" stroke-width="0.7"/>
<path d="M77.4 292.2v6.8M76.2 292.2h2.4M76.2 299h2.4" stroke="#888" stroke-width="0.6" fill="none"/>
<circle cx="73.6" cy="298.6" r="1.6" fill="#e6e6e6" stroke="#808080" stroke-width="0.7"/>
<circle cx="81.6" cy="292.2" r="1.6" fill="#e6e6e6" stroke="#808080" stroke-width="0.7"/>
<path d="M99.5 295v1.5M98.3 295h2.4M98.3 296.5h2.4" stroke="#888" stroke-width="0.6" fill="none"/>
<circle cx="95.2" cy="296" r="1.6" fill="#e6e6e6" stroke="#808080" stroke-width="0.7"/>
<circle cx="103.6" cy="295" r="1.6" fill="#e6e6e6" stroke="#808080" stroke-width="0.7"/>
<path d="M143.3 271v10M142.1 271h2.4M142.1 281h2.4" stroke="#888" stroke-width="0.6" fill="none"/>
<circle cx="139.6" cy="280.5" r="1.6" fill="#e6e6e6" stroke="#808080" stroke-width="0.7"/>
<circle cx="147" cy="271" r="1.6" fill="#e6e6e6" stroke="#808080" stroke-width="0.7"/>
<path d="M165.2 233v8.6M164 233h2.4M164 241.6h2.4" stroke="#888" stroke-width="0.6" fill="none"/>
<circle cx="161" cy="232.6" r="1.6" fill="#e6e6e6" stroke="#808080" stroke-width="0.7"/>
<circle cx="169" cy="242" r="1.6" fill="#e6e6e6" stroke="#808080" stroke-width="0.7"/>
<path d="M187.1 214.4v14M185.9 214.4h2.4M185.9 228.4h2.4" stroke="#888" stroke-width="0.6" fill="none"/>
<circle cx="183" cy="214.6" r="1.6" fill="#e6e6e6" stroke="#808080" stroke-width="0.7"/>
<circle cx="190.4" cy="228" r="1.6" fill="#e6e6e6" stroke="#808080" stroke-width="0.7"/>
<rect x="40" y="194" width="11.6" height="5.6" fill="#EFA39B"/>
<text x="53" y="199.6" font-size="7.9" text-anchor="start" fill="#151515" font-weight="bold">TiO<tspan dy="2.21" font-size="5.37">2</tspan></text>
<rect x="40" y="205.4" width="11.6" height="5.6" fill="#B3E4D5"/>
<text x="53" y="211" font-size="7.9" text-anchor="start" fill="#151515" font-weight="bold">TiO<tspan dy="2.21" font-size="5.37">2</tspan><tspan dy="-2.21">/C</tspan><tspan dy="2.21" font-size="5.37">3</tspan><tspan dy="-2.21">N</tspan><tspan dy="2.21" font-size="5.37">4</tspan></text>
<rect x="40" y="215.6" width="11.6" height="5.6" fill="#A9C9DE"/>
<text x="53" y="221.2" font-size="7.9" text-anchor="start" fill="#151515" font-weight="bold">TiO<tspan dy="2.21" font-size="5.37">2</tspan><tspan dy="-2.21">/C</tspan><tspan dy="2.21" font-size="5.37">2</tspan><tspan dy="-2.21">N</tspan></text>
<text x="53.6" y="272" font-size="9" text-anchor="start" fill="#333" font-weight="bold">UV/catalyst</text>
<text x="134" y="206" font-size="9" text-anchor="start" fill="#333" font-weight="bold">UV/FC/catalyst</text>
<rect x="34" y="189.4" width="175.4" height="140" fill="none" stroke="#151515" stroke-width="1.5"/>
<path d="M266.4 329.4h-2.8M266.4 313h-2.8M266.4 296.6h-2.8M266.4 280.2h-2.8M266.4 263.8h-2.8M266.4 247.4h-2.8M266.4 231h-2.8M266.4 214.6h-2.8" stroke="#151515" stroke-width="1.3"/>
<path d="M266.4 321.2h-1.8M266.4 304.8h-1.8M266.4 288.4h-1.8M266.4 272h-1.8M266.4 255.6h-1.8M266.4 239.2h-1.8M266.4 222.8h-1.8" stroke="#151515" stroke-width="1.3"/>
<path d="M266.4 188h-2.8" stroke="#151515" stroke-width="1.3"/>
<path d="M266.4 196.2h-1.8" stroke="#151515" stroke-width="1.3"/>
<text x="262.4" y="332.5" font-size="9.4" text-anchor="end" fill="#151515" font-weight="bold">0</text>
<text x="262.4" y="316.1" font-size="9.4" text-anchor="end" fill="#151515" font-weight="bold">20</text>
<text x="262.4" y="299.7" font-size="9.4" text-anchor="end" fill="#151515" font-weight="bold">40</text>
<text x="262.4" y="283.3" font-size="9.4" text-anchor="end" fill="#151515" font-weight="bold">60</text>
<text x="262.4" y="266.9" font-size="9.4" text-anchor="end" fill="#151515" font-weight="bold">80</text>
<text x="262.4" y="250.5" font-size="9.4" text-anchor="end" fill="#151515" font-weight="bold">100</text>
<text x="262.4" y="234.1" font-size="9.4" text-anchor="end" fill="#151515" font-weight="bold">120</text>
<text x="262.4" y="217.7" font-size="9.4" text-anchor="end" fill="#151515" font-weight="bold">140</text>
<text x="262.4" y="191.1" font-size="9.4" text-anchor="end" fill="#151515" font-weight="bold">320</text>
<path d="M266.4 329.7v2.8M286.4 329.7v2.8M306.4 329.7v2.8M326.4 329.7v2.8M346.4 329.7v2.8M390 329.7v2.8M433 329.7v2.8" stroke="#151515" stroke-width="1.3"/>
<path d="M276.4 329.7v1.8M296.4 329.7v1.8M316.4 329.7v1.8M336.4 329.7v1.8M356.4 329.7v1.8M378.8 329.7v1.8M400 329.7v1.8M422 329.7v1.8" stroke="#151515" stroke-width="1.3"/>
<text x="266.4" y="339.9" font-size="9.3" text-anchor="middle" fill="#151515" font-weight="bold">0</text>
<text x="286.4" y="339.9" font-size="9.3" text-anchor="middle" fill="#151515" font-weight="bold">2</text>
<text x="306.4" y="339.9" font-size="9.3" text-anchor="middle" fill="#151515" font-weight="bold">4</text>
<text x="326.4" y="339.9" font-size="9.3" text-anchor="middle" fill="#151515" font-weight="bold">6</text>
<text x="346.4" y="339.9" font-size="9.3" text-anchor="middle" fill="#151515" font-weight="bold">8</text>
<text x="390" y="339.9" font-size="9.3" text-anchor="middle" fill="#151515" font-weight="bold">32</text>
<text x="433" y="339.9" font-size="9.3" text-anchor="middle" fill="#151515" font-weight="bold">62</text>
<text x="354.5" y="352.6" font-size="12" text-anchor="middle" fill="#151515" font-weight="bold"><tspan font-style="italic">k'</tspan>/catalyst (L min<tspan dy="-4.4" font-size="7.8">-1</tspan><tspan dy="4.4"> g</tspan><tspan dy="-4.4" font-size="7.8">-1</tspan><tspan dy="4.4">)</tspan></text>
<text x="242.8" y="258.5" font-size="12" text-anchor="middle" fill="#151515" font-weight="bold" transform="rotate(-90 242.8 258.5)"><tspan font-style="italic">k'</tspan>/oxidant (L min<tspan dy="-4.4" font-size="7.8">-1</tspan><tspan dy="4.4"> g</tspan><tspan dy="-4.4" font-size="7.8">-1</tspan><tspan dy="4.4">)</tspan></text>
<rect x="266.4" y="188" width="176.6" height="141.7" fill="none" stroke="#151515" stroke-width="1.5"/>
<rect x="365.5" y="186" width="5" height="4" fill="#fff"/>
<path d="M365.4 190.2l2.2 -4.4M368.4 190.2l2.2 -4.4" stroke="#151515" stroke-width="1"/>
<rect x="408.5" y="186" width="5" height="4" fill="#fff"/>
<path d="M408.4 190.2l2.2 -4.4M411.4 190.2l2.2 -4.4" stroke="#151515" stroke-width="1"/>
<rect x="365.1" y="327.7" width="5" height="4" fill="#fff"/>
<path d="M365 331.9l2.2 -4.4M368 331.9l2.2 -4.4" stroke="#151515" stroke-width="1"/>
<rect x="408.5" y="327.7" width="5" height="4" fill="#fff"/>
<path d="M408.4 331.9l2.2 -4.4M411.4 331.9l2.2 -4.4" stroke="#151515" stroke-width="1"/>
<rect x="264.4" y="203.5" width="4" height="5" fill="#fff"/>
<path d="M264.2 205.6l4.4 -2.2M264.2 208.6l4.4 -2.2" stroke="#151515" stroke-width="1"/>
<rect x="441" y="203.5" width="4" height="5" fill="#fff"/>
<path d="M440.8 205.6l4.4 -2.2M440.8 208.6l4.4 -2.2" stroke="#151515" stroke-width="1"/>
<circle cx="278" cy="196" r="3.3" fill="#F06A3A"/>
<path d="M278 203.4l3.48 6.03h-6.96z" fill="#86D6AE"/>
<path d="M278 221.8l3.48 -6.03h-6.96z" fill="#70A9BE"/>
<path d="M278 225.9l3.7 3.7l-3.7 3.7l-3.7 -3.7z" fill="#F2B57A"/>
<rect x="274.9" y="236.5" width="6.2" height="6.2" fill="#E9A6D6"/>
<text x="288.4" y="198.9" font-size="8.1" text-anchor="start" fill="#151515" font-weight="bold">FC AOPs</text>
<text x="288.4" y="209.5" font-size="8.1" text-anchor="start" fill="#151515" font-weight="bold">H<tspan dy="2.27" font-size="5.51">2</tspan><tspan dy="-2.27">O</tspan><tspan dy="2.27" font-size="5.51">2</tspan><tspan dy="-2.27"> AOPs</tspan></text>
<text x="288.4" y="220.9" font-size="8.1" text-anchor="start" fill="#151515" font-weight="bold">IO<tspan dy="2.27" font-size="5.51">3</tspan><tspan dy="-5.35" font-size="5.51">-</tspan><tspan dy="3.08"> AOPs</tspan></text>
<text x="288.4" y="232.5" font-size="8.1" text-anchor="start" fill="#151515" font-weight="bold">PMS AOPs</text>
<text x="288.4" y="242.5" font-size="8.1" text-anchor="start" fill="#151515" font-weight="bold">PDS AOPs</text>
<circle cx="267.2" cy="321.2" r="3.3" fill="#F06A3A"/>
<rect x="267.2" y="324" width="6" height="6" fill="#E9A6D6"/>
<rect x="270.8" y="324" width="6" height="6" fill="#E9A6D6"/>
<path d="M278.4 323.1l3.5 3.5l-3.5 3.5l-3.5 -3.5z" fill="#F2B57A"/>
<path d="M282.2 323.1l3.5 3.5l-3.5 3.5l-3.5 -3.5z" fill="#F2B57A"/>
<path d="M298.4 311.48l3.6 6.24h-7.2z" fill="#86D6AE"/>
<path d="M350.6 318.7l3.7 3.7l-3.7 3.7l-3.7 -3.7z" fill="#F2B57A"/>
<path d="M359.6 331.2l3.48 -6.03h-6.96z" fill="#70A9BE"/>
<circle cx="359.6" cy="222" r="3.3" fill="#F06A3A"/>
<circle cx="396.6" cy="254" r="3.3" fill="#F06A3A"/>
<path d="M432.4 190.8L433.93 194.89L438.3 195.08L434.88 197.8L436.04 202.02L432.4 199.6L428.76 202.02L429.92 197.8L426.5 195.08L430.87 194.89z" fill="#F06A3A"/>
<text x="398" y="210.2" font-size="8.1" text-anchor="middle" fill="#F06A3A" font-weight="bold">FC/TiO<tspan dy="2.27" font-size="5.51">2</tspan><tspan dy="-2.27">/C</tspan><tspan dy="2.27" font-size="5.51">2</tspan><tspan dy="-2.27">N (62,310)</tspan></text>
<text x="383" y="236.2" font-size="8.1" text-anchor="middle" fill="#151515" font-weight="bold">FC/TiO<tspan dy="2.27" font-size="5.51">2</tspan><tspan dy="-2.27">/AC (9,131)</tspan></text>
<text x="403" y="268.2" font-size="8.1" text-anchor="middle" fill="#151515" font-weight="bold">FC/TiO<tspan dy="2.27" font-size="5.51">2</tspan><tspan dy="-2.27"> (33,92)</tspan></text>
<text x="301.5" y="307" font-size="8.1" text-anchor="middle" fill="#151515" font-weight="bold">H<tspan dy="2.27" font-size="5.51">2</tspan><tspan dy="-2.27">O</tspan><tspan dy="2.27" font-size="5.51">2</tspan><tspan dy="-2.27">/TiO</tspan><tspan dy="2.27" font-size="5.51">2</tspan><tspan dy="-2.27"> (3,17)</tspan></text>
<text x="368" y="313.4" font-size="8.1" text-anchor="middle" fill="#151515" font-weight="bold">PMS/g-C<tspan dy="2.27" font-size="5.51">3</tspan><tspan dy="-2.27">N</tspan><tspan dy="2.27" font-size="5.51">4</tspan><tspan dy="-2.27"> (8,8)</tspan></text>
<text x="393.2" y="325.6" font-size="8.1" text-anchor="middle" fill="#151515" font-weight="bold">IO<tspan dy="2.27" font-size="5.51">3</tspan><tspan dy="-5.35" font-size="5.51">-</tspan><tspan dy="3.08">/TiO</tspan><tspan dy="2.27" font-size="5.51">2</tspan><tspan dy="-2.27"> (9,2)</tspan></text>
<path d="M499.6 329.4h-2.8M499.6 293.96h-2.8M499.6 258.52h-2.8M499.6 223.08h-2.8M499.6 187.64h-2.8" stroke="#151515" stroke-width="1.3"/>
<path d="M499.6 311.68h-1.8M499.6 276.24h-1.8M499.6 240.8h-1.8M499.6 205.36h-1.8" stroke="#151515" stroke-width="1.3"/>
<text x="495.6" y="332.5" font-size="9.4" text-anchor="end" fill="#151515" font-weight="bold">0.0</text>
<text x="495.6" y="297.06" font-size="9.4" text-anchor="end" fill="#151515" font-weight="bold">0.2</text>
<text x="495.6" y="261.62" font-size="9.4" text-anchor="end" fill="#151515" font-weight="bold">0.4</text>
<text x="495.6" y="226.18" font-size="9.4" text-anchor="end" fill="#151515" font-weight="bold">0.6</text>
<text x="495.6" y="190.74" font-size="9.4" text-anchor="end" fill="#151515" font-weight="bold">0.8</text>
<text x="478" y="258.5" font-size="12" text-anchor="middle" fill="#151515" font-weight="bold" transform="rotate(-90 478 258.5)"><tspan font-style="italic">k'</tspan> (min<tspan dy="-4.4" font-size="7.8">−1</tspan><tspan dy="4.4">)</tspan></text>
<rect x="506.4" y="237.26" width="10.6" height="92.14" fill="#ACE5C7"/>
<rect x="518.4" y="220.42" width="10.6" height="108.98" fill="#A8CBD5"/>
<rect x="541.8" y="247.89" width="10.6" height="81.51" fill="#ACE5C7"/>
<rect x="553.8" y="232.29" width="10.6" height="97.11" fill="#A8CBD5"/>
<rect x="577.2" y="292.19" width="10.6" height="37.21" fill="#ACE5C7"/>
<rect x="589.2" y="291.12" width="10.6" height="38.28" fill="#A8CBD5"/>
<rect x="612.6" y="293.96" width="10.6" height="35.44" fill="#ACE5C7"/>
<rect x="624.6" y="293.96" width="10.6" height="35.44" fill="#A8CBD5"/>
<rect x="648" y="304.59" width="10.6" height="24.81" fill="#ACE5C7"/>
<rect x="660" y="304.59" width="10.6" height="24.81" fill="#A8CBD5"/>
<path d="M511.4 231.6v9M510.2 231.6h2.4M510.2 240.6h2.4" stroke="#888" stroke-width="0.6" fill="none"/>
<circle cx="508.4" cy="231.6" r="1.6" fill="#e6e6e6" stroke="#808080" stroke-width="0.7"/>
<circle cx="514.4" cy="240.6" r="1.6" fill="#e6e6e6" stroke="#808080" stroke-width="0.7"/>
<path d="M523.4 213v13.6M522.2 213h2.4M522.2 226.6h2.4" stroke="#888" stroke-width="0.6" fill="none"/>
<circle cx="520" cy="226.6" r="1.6" fill="#e6e6e6" stroke="#808080" stroke-width="0.7"/>
<circle cx="526.4" cy="213" r="1.6" fill="#e6e6e6" stroke="#808080" stroke-width="0.7"/>
<path d="M546.6 246.2v2M545.4 246.2h2.4M545.4 248.2h2.4" stroke="#888" stroke-width="0.6" fill="none"/>
<circle cx="543.6" cy="248.6" r="1.6" fill="#e6e6e6" stroke="#808080" stroke-width="0.7"/>
<circle cx="549.6" cy="246" r="1.6" fill="#e6e6e6" stroke="#808080" stroke-width="0.7"/>
<path d="M558.6 228.4v6.6M557.4 228.4h2.4M557.4 235h2.4" stroke="#888" stroke-width="0.6" fill="none"/>
<circle cx="555.4" cy="235" r="1.6" fill="#e6e6e6" stroke="#808080" stroke-width="0.7"/>
<circle cx="561.6" cy="228.4" r="1.6" fill="#e6e6e6" stroke="#808080" stroke-width="0.7"/>
<path d="M582.6 285.6v12.4M581.4 285.6h2.4M581.4 298h2.4" stroke="#888" stroke-width="0.6" fill="none"/>
<circle cx="579" cy="285.6" r="1.6" fill="#e6e6e6" stroke="#808080" stroke-width="0.7"/>
<circle cx="585" cy="298" r="1.6" fill="#e6e6e6" stroke="#808080" stroke-width="0.7"/>
<path d="M594 289v3M592.8 289h2.4M592.8 292h2.4" stroke="#888" stroke-width="0.6" fill="none"/>
<circle cx="591" cy="292" r="1.6" fill="#e6e6e6" stroke="#808080" stroke-width="0.7"/>
<circle cx="597" cy="289" r="1.6" fill="#e6e6e6" stroke="#808080" stroke-width="0.7"/>
<path d="M617.6 294v0.6M616.4 294h2.4M616.4 294.6h2.4" stroke="#888" stroke-width="0.6" fill="none"/>
<circle cx="614.6" cy="294.6" r="1.6" fill="#e6e6e6" stroke="#808080" stroke-width="0.7"/>
<circle cx="620.6" cy="294" r="1.6" fill="#e6e6e6" stroke="#808080" stroke-width="0.7"/>
<path d="M629.4 286.6v13.8M628.2 286.6h2.4M628.2 300.4h2.4" stroke="#888" stroke-width="0.6" fill="none"/>
<circle cx="626.4" cy="300.4" r="1.6" fill="#e6e6e6" stroke="#808080" stroke-width="0.7"/>
<circle cx="632.4" cy="286.6" r="1.6" fill="#e6e6e6" stroke="#808080" stroke-width="0.7"/>
<path d="M653 303v2.6M651.8 303h2.4M651.8 305.6h2.4" stroke="#888" stroke-width="0.6" fill="none"/>
<circle cx="650" cy="305.6" r="1.6" fill="#e6e6e6" stroke="#808080" stroke-width="0.7"/>
<circle cx="656" cy="303" r="1.6" fill="#e6e6e6" stroke="#808080" stroke-width="0.7"/>
<path d="M664.6 301v7M663.4 301h2.4M663.4 308h2.4" stroke="#888" stroke-width="0.6" fill="none"/>
<circle cx="661.6" cy="301" r="1.6" fill="#e6e6e6" stroke="#808080" stroke-width="0.7"/>
<circle cx="667.6" cy="308" r="1.6" fill="#e6e6e6" stroke="#808080" stroke-width="0.7"/>
<rect x="595" y="192" width="14.4" height="7" fill="#B3E4D5"/>
<text x="611.6" y="197.8" font-size="7.2" text-anchor="start" fill="#151515" font-weight="bold">UV/FC/TiO<tspan dy="2.02" font-size="4.9">2</tspan><tspan dy="-2.02">/C</tspan><tspan dy="2.02" font-size="4.9">3</tspan><tspan dy="-2.02">N</tspan><tspan dy="2.02" font-size="4.9">4</tspan></text>
<rect x="595" y="202" width="14.4" height="7" fill="#A9C9DE"/>
<text x="611.6" y="207.8" font-size="7.2" text-anchor="start" fill="#151515" font-weight="bold">UV/FC/TiO<tspan dy="2.02" font-size="4.9">2</tspan><tspan dy="-2.02">/C</tspan><tspan dy="2.02" font-size="4.9">2</tspan><tspan dy="-2.02">N</tspan></text>
<g transform="translate(514.4 340.5) rotate(-22)">
<text x="0" y="3.1" font-size="8.4" text-anchor="middle" fill="#151515" font-weight="bold">Control</text>
</g>
<g transform="translate(551.5 340.2) rotate(-22)">
<text x="0" y="3.1" font-size="8.4" text-anchor="middle" fill="#151515" font-weight="bold">Na<tspan dy="2.35" font-size="5.71">2</tspan><tspan dy="-2.35">C</tspan><tspan dy="2.35" font-size="5.71">2</tspan><tspan dy="-2.35">O</tspan><tspan dy="2.35" font-size="5.71">4</tspan></text>
</g>
<g transform="translate(588 339.3) rotate(-22)">
<text x="0" y="3.1" font-size="8.4" text-anchor="middle" fill="#151515" font-weight="bold">AgNO<tspan dy="2.35" font-size="5.71">3</tspan></text>
</g>
<g transform="translate(620.5 341.4) rotate(-22)">
<text x="0" y="3.1" font-size="8.4" text-anchor="middle" fill="#151515" font-weight="bold">Low DO</text>
</g>
<g transform="translate(660.7 338.3) rotate(-22)">
<text x="0" y="3.1" font-size="8.4" text-anchor="middle" fill="#151515" font-weight="bold">TBA</text>
</g>
<rect x="499.6" y="187.5" width="177.4" height="141.9" fill="none" stroke="#151515" stroke-width="1.5"/>
<path d="M33.6 515.2h-2.8M33.6 489.55h-2.8M33.6 463.9h-2.8M33.6 438.25h-2.8M33.6 412.6h-2.8M33.6 386.95h-2.8" stroke="#151515" stroke-width="1.3"/>
<path d="M33.6 502.38h-1.8M33.6 476.73h-1.8M33.6 451.08h-1.8M33.6 425.43h-1.8M33.6 399.78h-1.8" stroke="#151515" stroke-width="1.3"/>
<text x="29.6" y="518.3" font-size="9.4" text-anchor="end" fill="#151515" font-weight="bold">0</text>
<text x="29.6" y="492.65" font-size="9.4" text-anchor="end" fill="#151515" font-weight="bold">1</text>
<text x="29.6" y="467" font-size="9.4" text-anchor="end" fill="#151515" font-weight="bold">2</text>
<text x="29.6" y="441.35" font-size="9.4" text-anchor="end" fill="#151515" font-weight="bold">3</text>
<text x="29.6" y="415.7" font-size="9.4" text-anchor="end" fill="#151515" font-weight="bold">4</text>
<text x="29.6" y="390.05" font-size="9.4" text-anchor="end" fill="#151515" font-weight="bold">5</text>
<rect x="51.6" y="490.06" width="23" height="25.34" fill="#EE9272"/>
<rect x="110.4" y="415.93" width="23" height="99.47" fill="#ACE5C7"/>
<rect x="169.2" y="392.85" width="23" height="122.55" fill="#A8CBD5"/>
<path d="M63.4 488v4M62.2 488h2.4M62.2 492h2.4" stroke="#888" stroke-width="0.6" fill="none"/>
<circle cx="57" cy="487.6" r="1.6" fill="#e6e6e6" stroke="#808080" stroke-width="0.7"/>
<circle cx="69.6" cy="492.6" r="1.6" fill="#e6e6e6" stroke="#808080" stroke-width="0.7"/>
<path d="M121.6 412.4v7.6M120.4 412.4h2.4M120.4 420h2.4" stroke="#888" stroke-width="0.6" fill="none"/>
<circle cx="116" cy="420" r="1.6" fill="#e6e6e6" stroke="#808080" stroke-width="0.7"/>
<circle cx="127.4" cy="412" r="1.6" fill="#e6e6e6" stroke="#808080" stroke-width="0.7"/>
<path d="M180.4 390v6M179.2 390h2.4M179.2 396h2.4" stroke="#888" stroke-width="0.6" fill="none"/>
<circle cx="175" cy="396" r="1.6" fill="#e6e6e6" stroke="#808080" stroke-width="0.7"/>
<circle cx="186" cy="390" r="1.6" fill="#e6e6e6" stroke="#808080" stroke-width="0.7"/>
<text x="63.8" y="528.4" font-size="9.2" text-anchor="middle" fill="#151515" font-weight="bold">UV/TiO<tspan dy="2.58" font-size="6.26">2</tspan></text>
<text x="122" y="528.4" font-size="9.2" text-anchor="middle" fill="#151515" font-weight="bold">UV/TiO<tspan dy="2.58" font-size="6.26">2</tspan><tspan dy="-2.58">/C</tspan><tspan dy="2.58" font-size="6.26">3</tspan><tspan dy="-2.58">N</tspan><tspan dy="2.58" font-size="6.26">4</tspan></text>
<text x="184" y="528.4" font-size="9.2" text-anchor="middle" fill="#151515" font-weight="bold">UV/TiO<tspan dy="2.58" font-size="6.26">2</tspan><tspan dy="-2.58">/C</tspan><tspan dy="2.58" font-size="6.26">2</tspan><tspan dy="-2.58">N</tspan></text>
<text x="17.7" y="445" font-size="12" text-anchor="middle" fill="#151515" font-weight="bold" transform="rotate(-90 17.7 445)">O<tspan dy="3.2" font-size="7.8">2</tspan><tspan dy="-7.6" font-size="7.8">•−</tspan><tspan dy="4.4"> concentration (</tspan><tspan font-style="italic">μ</tspan>M)</text>
<rect x="33.6" y="374.4" width="176.4" height="141" fill="none" stroke="#151515" stroke-width="1.5"/>
<path d="M266.8 515.2h-2.8M266.8 497.6h-2.8M266.8 480h-2.8M266.8 462.4h-2.8M266.8 444.8h-2.8M266.8 427.2h-2.8M266.8 409.6h-2.8M266.8 392h-2.8M266.8 374.4h-2.8" stroke="#151515" stroke-width="1.3"/>
<path d="M266.8 506.4h-1.8M266.8 488.8h-1.8M266.8 471.2h-1.8M266.8 453.6h-1.8M266.8 436h-1.8M266.8 418.4h-1.8M266.8 400.8h-1.8M266.8 383.2h-1.8" stroke="#151515" stroke-width="1.3"/>
<text x="262.6" y="518.3" font-size="9.4" text-anchor="end" fill="#151515" font-weight="bold">−7</text>
<text x="262.6" y="500.7" font-size="9.4" text-anchor="end" fill="#151515" font-weight="bold">−6</text>
<text x="262.6" y="483.1" font-size="9.4" text-anchor="end" fill="#151515" font-weight="bold">−5</text>
<text x="262.6" y="465.5" font-size="9.4" text-anchor="end" fill="#151515" font-weight="bold">−4</text>
<text x="262.6" y="447.9" font-size="9.4" text-anchor="end" fill="#151515" font-weight="bold">−3</text>
<text x="262.6" y="430.3" font-size="9.4" text-anchor="end" fill="#151515" font-weight="bold">−2</text>
<text x="262.6" y="412.7" font-size="9.4" text-anchor="end" fill="#151515" font-weight="bold">−1</text>
<text x="262.6" y="395.1" font-size="9.4" text-anchor="end" fill="#151515" font-weight="bold">0</text>
<text x="262.6" y="377.5" font-size="9.4" text-anchor="end" fill="#151515" font-weight="bold">1</text>
<text x="248" y="445" font-size="12" text-anchor="middle" fill="#151515" font-weight="bold" transform="rotate(-90 248 445)">Gibbs free energy (eV)</text>
<text x="354.6" y="529.6" font-size="12" text-anchor="middle" fill="#151515" font-weight="bold">Reaction coordinate</text>
<line x1="311" y1="392" x2="339" y2="500" stroke="#F26B3A" stroke-width="1.1" stroke-dasharray="5 3.6"/>
<line x1="370" y1="500" x2="397" y2="386.7" stroke="#F26B3A" stroke-width="1.1" stroke-dasharray="5 3.6"/>
<line x1="311" y1="392" x2="339" y2="475.6" stroke="#7FD3A8" stroke-width="1.1" stroke-dasharray="5 3.6"/>
<line x1="370" y1="475.6" x2="397" y2="386.7" stroke="#7FD3A8" stroke-width="1.1" stroke-dasharray="5 3.6"/>
<line x1="311" y1="392" x2="339" y2="404" stroke="#6AA8BF" stroke-width="1.1" stroke-dasharray="5 3.6"/>
<line x1="370" y1="404" x2="397" y2="386.7" stroke="#6AA8BF" stroke-width="1.1" stroke-dasharray="5 3.6"/>
<line x1="339" y1="500" x2="370" y2="500" stroke="#F26B3A" stroke-width="1.5"/>
<line x1="339" y1="475.6" x2="370" y2="475.6" stroke="#7FD3A8" stroke-width="1.5"/>
<line x1="339" y1="404" x2="370" y2="404" stroke="#6AA8BF" stroke-width="1.5"/>
<line x1="281" y1="392" x2="311" y2="392" stroke="#6AA8BF" stroke-width="1.5"/>
<line x1="397" y1="386.7" x2="428" y2="386.7" stroke="#6AA8BF" stroke-width="1.5"/>
<line x1="397" y1="386.7" x2="428" y2="386.7" stroke="#F26B3A" stroke-width="1.5" stroke-dasharray="4 4" stroke-dashoffset="-2"/>
<path d="M281.4 438.6L284 433.2M281.4 438.6L279 432.6M281.4 438.6L288.4 439.4M281.4 438.6l-1.6 -2M281.4 438.6l1.8 -1.6M286.4 436.1L284 433.2M286.4 436.1L288.4 439.4M286.4 436.1L293.2 432.6M286.4 436.1l-1.6 -2M286.4 436.1l1.8 -1.6M290.9 442.1L288.4 439.4M290.9 442.1L288 446.1M290.9 442.1L293.7 446.4M290.9 442.1l-1.6 -2M290.9 442.1l1.8 -1.6M296.4 437.1L298.2 433.4M296.4 437.1L293.2 432.6M296.4 437.1l-1.6 -2M296.4 437.1l1.8 -1.6M300.9 440.6L305.4 441.1M300.9 440.6L298.9 446.1M300.9 440.6L298.2 433.4M300.9 440.6l-1.6 -2M300.9 440.6l1.8 -1.6M306.4 442.6L305.4 441.1M306.4 442.6L308.2 436.1M306.4 442.6L308.4 449.1M306.4 442.6l-1.6 -2M306.4 442.6l1.8 -1.6M279.4 442.6L279.7 446.1M279.4 442.6l-1.6 -2M279.4 442.6l1.8 -1.6M283.9 449.1L283.4 452.1M283.9 449.1L288 446.1M283.9 449.1L279.7 446.1M283.9 449.1l-1.6 -2M283.9 449.1l1.8 -1.6M290.4 449.6L290.9 452.6M290.4 449.6L288 446.1M290.4 449.6L293.7 446.4M290.4 449.6l-1.6 -2M290.4 449.6l1.8 -1.6M296.4 451.6L290.9 452.6M296.4 451.6L293.7 446.4M296.4 451.6L298.9 446.1M296.4 451.6l-1.6 -2M296.4 451.6l1.8 -1.6M300.9 453.6L303.6 457.6M300.9 453.6L303.1 449.1M300.9 453.6l-1.6 -2M300.9 453.6l1.8 -1.6M305.9 454.1L303.6 457.6M305.9 454.1L308.3 457.6M305.9 454.1L308.4 449.1M305.9 454.1l-1.6 -2M305.9 454.1l1.8 -1.6M279.9 453.1L283.4 452.1M279.9 453.1L279 457.6M279.9 453.1L283.8 458.1M279.9 453.1l-1.6 -2M279.9 453.1l1.8 -1.6M286.4 460.6L283.8 458.1M286.4 460.6L289 457.6M286.4 460.6L281.4 462.6M286.4 460.6l-1.6 -2M286.4 460.6l1.8 -1.6M291.4 462.6L294.2 458.1M291.4 462.6L289 457.6M291.4 462.6L298.9 461.6M291.4 462.6l-1.6 -2M291.4 462.6l1.8 -1.6M296.9 455.1L294.2 458.1M296.9 455.1L290.9 452.6M296.9 455.1L298.9 461.6M296.9 455.1l-1.6 -2M296.9 455.1l1.8 -1.6M301.4 462.1L298.9 461.6M301.4 462.1L303.6 457.6M301.4 462.1l-1.6 -2M301.4 462.1l1.8 -1.6M306.4 462.6L308.3 457.6M306.4 462.6L303.6 457.6M306.4 462.6L298.9 461.6M306.4 462.6l-1.6 -2M306.4 462.6l1.8 -1.6M310.4 453.6L308.3 457.6M310.4 453.6L308.4 449.1M310.4 453.6l-1.6 -2M310.4 453.6l1.8 -1.6M310.4 441.6L305.4 441.1M310.4 441.6L308.2 436.1M310.4 441.6l-1.6 -2M310.4 441.6l1.8 -1.6" stroke="#E3383C" stroke-width="1" fill="none" stroke-linecap="round"/>
<circle cx="279" cy="432.6" r="1.78" fill="#A0CDE6" stroke="#5C9CC4" stroke-width="0.55"/>
<circle cx="284" cy="433.2" r="1.78" fill="#A0CDE6" stroke="#5C9CC4" stroke-width="0.55"/>
<circle cx="293.2" cy="432.6" r="1.78" fill="#A0CDE6" stroke="#5C9CC4" stroke-width="0.55"/>
<circle cx="298.2" cy="433.4" r="1.78" fill="#A0CDE6" stroke="#5C9CC4" stroke-width="0.55"/>
<circle cx="303.2" cy="432.6" r="1.78" fill="#A0CDE6" stroke="#5C9CC4" stroke-width="0.55"/>
<circle cx="308.2" cy="436.1" r="1.78" fill="#A0CDE6" stroke="#5C9CC4" stroke-width="0.55"/>
<circle cx="288.4" cy="439.4" r="1.36" fill="#A0CDE6" stroke="#5C9CC4" stroke-width="0.55"/>
<circle cx="305.4" cy="441.1" r="1.27" fill="#A0CDE6" stroke="#5C9CC4" stroke-width="0.55"/>
<circle cx="279.7" cy="446.1" r="1.78" fill="#A0CDE6" stroke="#5C9CC4" stroke-width="0.55"/>
<circle cx="288" cy="446.1" r="1.78" fill="#A0CDE6" stroke="#5C9CC4" stroke-width="0.55"/>
<circle cx="293.7" cy="446.4" r="1.78" fill="#A0CDE6" stroke="#5C9CC4" stroke-width="0.55"/>
<circle cx="298.9" cy="446.1" r="1.78" fill="#A0CDE6" stroke="#5C9CC4" stroke-width="0.55"/>
<circle cx="303.1" cy="449.1" r="1.78" fill="#A0CDE6" stroke="#5C9CC4" stroke-width="0.55"/>
<circle cx="308.4" cy="449.1" r="1.78" fill="#A0CDE6" stroke="#5C9CC4" stroke-width="0.55"/>
<circle cx="283.4" cy="452.1" r="1.27" fill="#A0CDE6" stroke="#5C9CC4" stroke-width="0.55"/>
<circle cx="290.9" cy="452.6" r="1.27" fill="#A0CDE6" stroke="#5C9CC4" stroke-width="0.55"/>
<circle cx="279" cy="457.6" r="1.78" fill="#A0CDE6" stroke="#5C9CC4" stroke-width="0.55"/>
<circle cx="283.8" cy="458.1" r="1.78" fill="#A0CDE6" stroke="#5C9CC4" stroke-width="0.55"/>
<circle cx="289" cy="457.6" r="1.78" fill="#A0CDE6" stroke="#5C9CC4" stroke-width="0.55"/>
<circle cx="294.2" cy="458.1" r="1.78" fill="#A0CDE6" stroke="#5C9CC4" stroke-width="0.55"/>
<circle cx="303.6" cy="457.6" r="1.78" fill="#A0CDE6" stroke="#5C9CC4" stroke-width="0.55"/>
<circle cx="308.3" cy="457.6" r="1.78" fill="#A0CDE6" stroke="#5C9CC4" stroke-width="0.55"/>
<circle cx="298.9" cy="461.6" r="1.27" fill="#A0CDE6" stroke="#5C9CC4" stroke-width="0.55"/>
<circle cx="281.4" cy="462.6" r="1.27" fill="#A0CDE6" stroke="#5C9CC4" stroke-width="0.55"/>
<rect x="277" y="416.8" width="32.6" height="3.2" rx="1.2" fill="#A89280"/>
<path d="M278 417.6l1.6 1.2M280.2 419.2l1.6 -1.2M282.4 417.6l1.6 1.2M284.6 419.2l1.6 -1.2M286.8 417.6l1.6 1.2M289 419.2l1.6 -1.2M291.2 417.6l1.6 1.2M293.4 419.2l1.6 -1.2M295.6 417.6l1.6 1.2M297.8 419.2l1.6 -1.2M300 417.6l1.6 1.2M302.2 419.2l1.6 -1.2M304.4 417.6l1.6 1.2M306.6 419.2l1.6 -1.2" stroke="#8A6A50" stroke-width="0.7" fill="none"/>
<path d="M278 419.4h30.6" stroke="#A9B4D8" stroke-width="0.6" stroke-dasharray="1.2 2.2" opacity="0.9"/>
<path d="M343 438.8L345.6 433.4M343 438.8L340.6 432.8M343 438.8L350 439.6M343 438.8l-1.6 -2M343 438.8l1.8 -1.6M348 436.3L345.6 433.4M348 436.3L350 439.6M348 436.3L354.8 432.8M348 436.3l-1.6 -2M348 436.3l1.8 -1.6M352.5 442.3L350 439.6M352.5 442.3L349.6 446.3M352.5 442.3L355.3 446.6M352.5 442.3l-1.6 -2M352.5 442.3l1.8 -1.6M358 437.3L359.8 433.6M358 437.3L354.8 432.8M358 437.3l-1.6 -2M358 437.3l1.8 -1.6M362.5 440.8L367 441.3M362.5 440.8L360.5 446.3M362.5 440.8L359.8 433.6M362.5 440.8l-1.6 -2M362.5 440.8l1.8 -1.6M368 442.8L367 441.3M368 442.8L369.8 436.3M368 442.8L370 449.3M368 442.8l-1.6 -2M368 442.8l1.8 -1.6M341 442.8L341.3 446.3M341 442.8l-1.6 -2M341 442.8l1.8 -1.6M345.5 449.3L345 452.3M345.5 449.3L349.6 446.3M345.5 449.3L341.3 446.3M345.5 449.3l-1.6 -2M345.5 449.3l1.8 -1.6M352 449.8L352.5 452.8M352 449.8L349.6 446.3M352 449.8L355.3 446.6M352 449.8l-1.6 -2M352 449.8l1.8 -1.6M358 451.8L352.5 452.8M358 451.8L355.3 446.6M358 451.8L360.5 446.3M358 451.8l-1.6 -2M358 451.8l1.8 -1.6M362.5 453.8L365.2 457.8M362.5 453.8L364.7 449.3M362.5 453.8l-1.6 -2M362.5 453.8l1.8 -1.6M367.5 454.3L365.2 457.8M367.5 454.3L369.9 457.8M367.5 454.3L370 449.3M367.5 454.3l-1.6 -2M367.5 454.3l1.8 -1.6M341.5 453.3L345 452.3M341.5 453.3L340.6 457.8M341.5 453.3L345.4 458.3M341.5 453.3l-1.6 -2M341.5 453.3l1.8 -1.6M348 460.8L345.4 458.3M348 460.8L350.6 457.8M348 460.8L343 462.8M348 460.8l-1.6 -2M348 460.8l1.8 -1.6M353 462.8L355.8 458.3M353 462.8L350.6 457.8M353 462.8L360.5 461.8M353 462.8l-1.6 -2M353 462.8l1.8 -1.6M358.5 455.3L355.8 458.3M358.5 455.3L352.5 452.8M358.5 455.3L360.5 461.8M358.5 455.3l-1.6 -2M358.5 455.3l1.8 -1.6M363 462.3L360.5 461.8M363 462.3L365.2 457.8M363 462.3l-1.6 -2M363 462.3l1.8 -1.6M368 462.8L369.9 457.8M368 462.8L365.2 457.8M368 462.8L360.5 461.8M368 462.8l-1.6 -2M368 462.8l1.8 -1.6M372 453.8L369.9 457.8M372 453.8L370 449.3M372 453.8l-1.6 -2M372 453.8l1.8 -1.6M372 441.8L367 441.3M372 441.8L369.8 436.3M372 441.8l-1.6 -2M372 441.8l1.8 -1.6" stroke="#E3383C" stroke-width="1" fill="none" stroke-linecap="round"/>
<circle cx="340.6" cy="432.8" r="1.78" fill="#A0CDE6" stroke="#5C9CC4" stroke-width="0.55"/>
<circle cx="345.6" cy="433.4" r="1.78" fill="#A0CDE6" stroke="#5C9CC4" stroke-width="0.55"/>
<circle cx="354.8" cy="432.8" r="1.78" fill="#A0CDE6" stroke="#5C9CC4" stroke-width="0.55"/>
<circle cx="359.8" cy="433.6" r="1.78" fill="#A0CDE6" stroke="#5C9CC4" stroke-width="0.55"/>
<circle cx="364.8" cy="432.8" r="1.78" fill="#A0CDE6" stroke="#5C9CC4" stroke-width="0.55"/>
<circle cx="369.8" cy="436.3" r="1.78" fill="#A0CDE6" stroke="#5C9CC4" stroke-width="0.55"/>
<circle cx="350" cy="439.6" r="1.36" fill="#A0CDE6" stroke="#5C9CC4" stroke-width="0.55"/>
<circle cx="367" cy="441.3" r="1.27" fill="#A0CDE6" stroke="#5C9CC4" stroke-width="0.55"/>
<circle cx="341.3" cy="446.3" r="1.78" fill="#A0CDE6" stroke="#5C9CC4" stroke-width="0.55"/>
<circle cx="349.6" cy="446.3" r="1.78" fill="#A0CDE6" stroke="#5C9CC4" stroke-width="0.55"/>
<circle cx="355.3" cy="446.6" r="1.78" fill="#A0CDE6" stroke="#5C9CC4" stroke-width="0.55"/>
<circle cx="360.5" cy="446.3" r="1.78" fill="#A0CDE6" stroke="#5C9CC4" stroke-width="0.55"/>
<circle cx="364.7" cy="449.3" r="1.78" fill="#A0CDE6" stroke="#5C9CC4" stroke-width="0.55"/>
<circle cx="370" cy="449.3" r="1.78" fill="#A0CDE6" stroke="#5C9CC4" stroke-width="0.55"/>
<circle cx="345" cy="452.3" r="1.27" fill="#A0CDE6" stroke="#5C9CC4" stroke-width="0.55"/>
<circle cx="352.5" cy="452.8" r="1.27" fill="#A0CDE6" stroke="#5C9CC4" stroke-width="0.55"/>
<circle cx="340.6" cy="457.8" r="1.78" fill="#A0CDE6" stroke="#5C9CC4" stroke-width="0.55"/>
<circle cx="345.4" cy="458.3" r="1.78" fill="#A0CDE6" stroke="#5C9CC4" stroke-width="0.55"/>
<circle cx="350.6" cy="457.8" r="1.78" fill="#A0CDE6" stroke="#5C9CC4" stroke-width="0.55"/>
<circle cx="355.8" cy="458.3" r="1.78" fill="#A0CDE6" stroke="#5C9CC4" stroke-width="0.55"/>
<circle cx="365.2" cy="457.8" r="1.78" fill="#A0CDE6" stroke="#5C9CC4" stroke-width="0.55"/>
<circle cx="369.9" cy="457.8" r="1.78" fill="#A0CDE6" stroke="#5C9CC4" stroke-width="0.55"/>
<circle cx="360.5" cy="461.8" r="1.27" fill="#A0CDE6" stroke="#5C9CC4" stroke-width="0.55"/>
<circle cx="343" cy="462.8" r="1.27" fill="#A0CDE6" stroke="#5C9CC4" stroke-width="0.55"/>
<rect x="339.2" y="416.4" width="32.7" height="3.2" rx="1.2" fill="#A89280"/>
<path d="M340.2 417.2l1.6 1.2M342.4 418.8l1.6 -1.2M344.6 417.2l1.6 1.2M346.8 418.8l1.6 -1.2M349 417.2l1.6 1.2M351.2 418.8l1.6 -1.2M353.4 417.2l1.6 1.2M355.6 418.8l1.6 -1.2M357.8 417.2l1.6 1.2M360 418.8l1.6 -1.2M362.2 417.2l1.6 1.2M364.4 418.8l1.6 -1.2M366.6 417.2l1.6 1.2M368.8 418.8l1.6 -1.2" stroke="#8A6A50" stroke-width="0.7" fill="none"/>
<path d="M340.2 419h30.7" stroke="#A9B4D8" stroke-width="0.6" stroke-dasharray="1.2 2.2" opacity="0.9"/>
<path d="M404 438.6L406.6 433.2M404 438.6L401.6 432.6M404 438.6L411 439.4M404 438.6l-1.6 -2M404 438.6l1.8 -1.6M409 436.1L406.6 433.2M409 436.1L411 439.4M409 436.1L415.8 432.6M409 436.1l-1.6 -2M409 436.1l1.8 -1.6M413.5 442.1L411 439.4M413.5 442.1L410.6 446.1M413.5 442.1L416.3 446.4M413.5 442.1l-1.6 -2M413.5 442.1l1.8 -1.6M419 437.1L420.8 433.4M419 437.1L415.8 432.6M419 437.1l-1.6 -2M419 437.1l1.8 -1.6M423.5 440.6L428 441.1M423.5 440.6L421.5 446.1M423.5 440.6L420.8 433.4M423.5 440.6l-1.6 -2M423.5 440.6l1.8 -1.6M429 442.6L428 441.1M429 442.6L430.8 436.1M429 442.6L431 449.1M429 442.6l-1.6 -2M429 442.6l1.8 -1.6M402 442.6L402.3 446.1M402 442.6l-1.6 -2M402 442.6l1.8 -1.6M406.5 449.1L406 452.1M406.5 449.1L410.6 446.1M406.5 449.1L402.3 446.1M406.5 449.1l-1.6 -2M406.5 449.1l1.8 -1.6M413 449.6L413.5 452.6M413 449.6L410.6 446.1M413 449.6L416.3 446.4M413 449.6l-1.6 -2M413 449.6l1.8 -1.6M419 451.6L413.5 452.6M419 451.6L416.3 446.4M419 451.6L421.5 446.1M419 451.6l-1.6 -2M419 451.6l1.8 -1.6M423.5 453.6L426.2 457.6M423.5 453.6L425.7 449.1M423.5 453.6l-1.6 -2M423.5 453.6l1.8 -1.6M428.5 454.1L426.2 457.6M428.5 454.1L430.9 457.6M428.5 454.1L431 449.1M428.5 454.1l-1.6 -2M428.5 454.1l1.8 -1.6M402.5 453.1L406 452.1M402.5 453.1L401.6 457.6M402.5 453.1L406.4 458.1M402.5 453.1l-1.6 -2M402.5 453.1l1.8 -1.6M409 460.6L406.4 458.1M409 460.6L411.6 457.6M409 460.6L404 462.6M409 460.6l-1.6 -2M409 460.6l1.8 -1.6M414 462.6L416.8 458.1M414 462.6L411.6 457.6M414 462.6L421.5 461.6M414 462.6l-1.6 -2M414 462.6l1.8 -1.6M419.5 455.1L416.8 458.1M419.5 455.1L413.5 452.6M419.5 455.1L421.5 461.6M419.5 455.1l-1.6 -2M419.5 455.1l1.8 -1.6M424 462.1L421.5 461.6M424 462.1L426.2 457.6M424 462.1l-1.6 -2M424 462.1l1.8 -1.6M429 462.6L430.9 457.6M429 462.6L426.2 457.6M429 462.6L421.5 461.6M429 462.6l-1.6 -2M429 462.6l1.8 -1.6M433 453.6L430.9 457.6M433 453.6L431 449.1M433 453.6l-1.6 -2M433 453.6l1.8 -1.6M433 441.6L428 441.1M433 441.6L430.8 436.1M433 441.6l-1.6 -2M433 441.6l1.8 -1.6" stroke="#E3383C" stroke-width="1" fill="none" stroke-linecap="round"/>
<circle cx="401.6" cy="432.6" r="1.78" fill="#A0CDE6" stroke="#5C9CC4" stroke-width="0.55"/>
<circle cx="406.6" cy="433.2" r="1.78" fill="#A0CDE6" stroke="#5C9CC4" stroke-width="0.55"/>
<circle cx="415.8" cy="432.6" r="1.78" fill="#A0CDE6" stroke="#5C9CC4" stroke-width="0.55"/>
<circle cx="420.8" cy="433.4" r="1.78" fill="#A0CDE6" stroke="#5C9CC4" stroke-width="0.55"/>
<circle cx="425.8" cy="432.6" r="1.78" fill="#A0CDE6" stroke="#5C9CC4" stroke-width="0.55"/>
<circle cx="430.8" cy="436.1" r="1.78" fill="#A0CDE6" stroke="#5C9CC4" stroke-width="0.55"/>
<circle cx="411" cy="439.4" r="1.36" fill="#A0CDE6" stroke="#5C9CC4" stroke-width="0.55"/>
<circle cx="428" cy="441.1" r="1.27" fill="#A0CDE6" stroke="#5C9CC4" stroke-width="0.55"/>
<circle cx="402.3" cy="446.1" r="1.78" fill="#A0CDE6" stroke="#5C9CC4" stroke-width="0.55"/>
<circle cx="410.6" cy="446.1" r="1.78" fill="#A0CDE6" stroke="#5C9CC4" stroke-width="0.55"/>
<circle cx="416.3" cy="446.4" r="1.78" fill="#A0CDE6" stroke="#5C9CC4" stroke-width="0.55"/>
<circle cx="421.5" cy="446.1" r="1.78" fill="#A0CDE6" stroke="#5C9CC4" stroke-width="0.55"/>
<circle cx="425.7" cy="449.1" r="1.78" fill="#A0CDE6" stroke="#5C9CC4" stroke-width="0.55"/>
<circle cx="431" cy="449.1" r="1.78" fill="#A0CDE6" stroke="#5C9CC4" stroke-width="0.55"/>
<circle cx="406" cy="452.1" r="1.27" fill="#A0CDE6" stroke="#5C9CC4" stroke-width="0.55"/>
<circle cx="413.5" cy="452.6" r="1.27" fill="#A0CDE6" stroke="#5C9CC4" stroke-width="0.55"/>
<circle cx="401.6" cy="457.6" r="1.78" fill="#A0CDE6" stroke="#5C9CC4" stroke-width="0.55"/>
<circle cx="406.4" cy="458.1" r="1.78" fill="#A0CDE6" stroke="#5C9CC4" stroke-width="0.55"/>
<circle cx="411.6" cy="457.6" r="1.78" fill="#A0CDE6" stroke="#5C9CC4" stroke-width="0.55"/>
<circle cx="416.8" cy="458.1" r="1.78" fill="#A0CDE6" stroke="#5C9CC4" stroke-width="0.55"/>
<circle cx="426.2" cy="457.6" r="1.78" fill="#A0CDE6" stroke="#5C9CC4" stroke-width="0.55"/>
<circle cx="430.9" cy="457.6" r="1.78" fill="#A0CDE6" stroke="#5C9CC4" stroke-width="0.55"/>
<circle cx="421.5" cy="461.6" r="1.27" fill="#A0CDE6" stroke="#5C9CC4" stroke-width="0.55"/>
<circle cx="404" cy="462.6" r="1.27" fill="#A0CDE6" stroke="#5C9CC4" stroke-width="0.55"/>
<rect x="400.2" y="416.4" width="32.8" height="3.2" rx="1.2" fill="#A89280"/>
<path d="M401.2 417.2l1.6 1.2M403.4 418.8l1.6 -1.2M405.6 417.2l1.6 1.2M407.8 418.8l1.6 -1.2M410 417.2l1.6 1.2M412.2 418.8l1.6 -1.2M414.4 417.2l1.6 1.2M416.6 418.8l1.6 -1.2M418.8 417.2l1.6 1.2M421 418.8l1.6 -1.2M423.2 417.2l1.6 1.2M425.4 418.8l1.6 -1.2M427.6 417.2l1.6 1.2M429.8 418.8l1.6 -1.2M432 417.2l1.6 1.2" stroke="#8A6A50" stroke-width="0.7" fill="none"/>
<path d="M401.2 419h30.8" stroke="#A9B4D8" stroke-width="0.6" stroke-dasharray="1.2 2.2" opacity="0.9"/>
<circle cx="275.2" cy="409.3" r="3" fill="#86CC50" stroke="#5AA032" stroke-width="0.8"/>
<circle cx="275" cy="409.1" r="1.14" fill="#fff" opacity="0.55"/>
<circle cx="285.3" cy="404.7" r="2.5" fill="#D42A2E" stroke="#9A1418" stroke-width="0.8"/>
<circle cx="285.1" cy="404.5" r="0.95" fill="#fff" opacity="0.55"/>
<circle cx="290" cy="408" r="1" fill="#555" stroke="#333" stroke-width="0.8"/>
<circle cx="298.6" cy="404.7" r="2.5" fill="#D42A2E" stroke="#9A1418" stroke-width="0.8"/>
<circle cx="298.4" cy="404.5" r="0.95" fill="#fff" opacity="0.55"/>
<circle cx="307" cy="408" r="2.5" fill="#D42A2E" stroke="#9A1418" stroke-width="0.8"/>
<circle cx="306.8" cy="407.8" r="0.95" fill="#fff" opacity="0.55"/>
<path d="M281 411.5l4 4M292 411l-3.5 4.5M302 410.5l-3 4.5" stroke="#333" stroke-width="0.6" stroke-dasharray="1 1"/>
<path d="M286 421.5v3M300 421.5v3" stroke="#222" stroke-width="0.8"/><path d="M284.4 424.4h3.2l-1.6 2.4zM298.4 424.4h3.2l-1.6 2.4z" fill="#222"/>
<circle cx="350.8" cy="424" r="2.7" fill="#86CC50" stroke="#5AA032" stroke-width="0.8"/>
<circle cx="350.6" cy="423.8" r="1.03" fill="#fff" opacity="0.55"/>
<circle cx="344.4" cy="429.4" r="2.2" fill="#D42A2E" stroke="#9A1418" stroke-width="0.8"/>
<circle cx="344.2" cy="429.2" r="0.84" fill="#fff" opacity="0.55"/>
<circle cx="366" cy="429.4" r="2.2" fill="#D42A2E" stroke="#9A1418" stroke-width="0.8"/>
<circle cx="365.8" cy="429.2" r="0.84" fill="#fff" opacity="0.55"/>
<circle cx="372.4" cy="426" r="2.2" fill="#D42A2E" stroke="#9A1418" stroke-width="0.8"/>
<circle cx="372.2" cy="425.8" r="0.84" fill="#fff" opacity="0.55"/>
<circle cx="404" cy="424.6" r="2.2" fill="#D42A2E" stroke="#9A1418" stroke-width="0.8"/>
<circle cx="403.8" cy="424.4" r="0.84" fill="#fff" opacity="0.55"/>
<circle cx="420" cy="424.6" r="2.2" fill="#D42A2E" stroke="#9A1418" stroke-width="0.8"/>
<circle cx="419.8" cy="424.4" r="0.84" fill="#fff" opacity="0.55"/>
<circle cx="408" cy="425" r="0.9" fill="#555" stroke="#333" stroke-width="0.8"/>
<circle cx="424" cy="425" r="0.9" fill="#555" stroke="#333" stroke-width="0.8"/>
<line x1="271.4" y1="484.6" x2="287" y2="484.6" stroke="#F26B3A" stroke-width="1.4"/>
<text x="289" y="487.2" font-size="7.2" text-anchor="start" fill="#151515" font-weight="bold">TiO<tspan dy="2.02" font-size="4.9">2</tspan></text>
<line x1="271.4" y1="495.4" x2="287" y2="495.4" stroke="#7FD3A8" stroke-width="1.4"/>
<text x="289" y="498" font-size="7.2" text-anchor="start" fill="#151515" font-weight="bold">TiO<tspan dy="2.02" font-size="4.9">2</tspan><tspan dy="-2.02">/C</tspan><tspan dy="2.02" font-size="4.9">3</tspan><tspan dy="-2.02">N</tspan><tspan dy="2.02" font-size="4.9">4</tspan></text>
<line x1="271.4" y1="506.4" x2="287" y2="506.4" stroke="#6AA8BF" stroke-width="1.4"/>
<text x="289" y="509" font-size="7.2" text-anchor="start" fill="#151515" font-weight="bold">TiO<tspan dy="2.02" font-size="4.9">2</tspan><tspan dy="-2.02">/C</tspan><tspan dy="2.02" font-size="4.9">2</tspan><tspan dy="-2.02">N</tspan></text>
<rect x="266.8" y="374.4" width="175.6" height="140.6" fill="none" stroke="#151515" stroke-width="1.5"/>
<path d="M500 515.6h-2.8M500 495.5h-2.8M500 475.4h-2.8M500 455.3h-2.8M500 435.2h-2.8M500 415.1h-2.8M500 395h-2.8M500 374.9h-2.8" stroke="#151515" stroke-width="1.3"/>
<path d="M500 505.55h-1.8M500 485.45h-1.8M500 465.35h-1.8M500 445.25h-1.8M500 425.15h-1.8M500 405.05h-1.8M500 384.95h-1.8" stroke="#151515" stroke-width="1.3"/>
<text x="496" y="518.7" font-size="9.4" text-anchor="end" fill="#151515" font-weight="bold">0.0</text>
<text x="496" y="498.6" font-size="9.4" text-anchor="end" fill="#151515" font-weight="bold">0.1</text>
<text x="496" y="478.5" font-size="9.4" text-anchor="end" fill="#151515" font-weight="bold">0.2</text>
<text x="496" y="458.4" font-size="9.4" text-anchor="end" fill="#151515" font-weight="bold">0.3</text>
<text x="496" y="438.3" font-size="9.4" text-anchor="end" fill="#151515" font-weight="bold">0.4</text>
<text x="496" y="418.2" font-size="9.4" text-anchor="end" fill="#151515" font-weight="bold">0.5</text>
<text x="496" y="398.1" font-size="9.4" text-anchor="end" fill="#151515" font-weight="bold">0.6</text>
<text x="496" y="378" font-size="9.4" text-anchor="end" fill="#151515" font-weight="bold">0.7</text>
<text x="479.4" y="445.4" font-size="12" text-anchor="middle" fill="#151515" font-weight="bold" transform="rotate(-90 479.4 445.4)"><tspan font-style="italic">k'</tspan> (min<tspan dy="-4.4" font-size="7.8">−1</tspan><tspan dy="4.4">)</tspan></text>
<rect x="518" y="497.91" width="23.6" height="17.69" fill="#A8CBD5"/>
<line x1="518" y1="497.91" x2="541.6" y2="497.91" stroke="#8a9a9a" stroke-width="0.35"/>
<rect x="518" y="470.98" width="23.6" height="26.93" fill="#ADE5C8"/>
<line x1="518" y1="470.98" x2="541.6" y2="470.98" stroke="#8a9a9a" stroke-width="0.35"/>
<rect x="518" y="467.36" width="23.6" height="3.62" fill="#EF9C80"/>
<line x1="518" y1="467.36" x2="541.6" y2="467.36" stroke="#8a9a9a" stroke-width="0.35"/>
<rect x="518" y="462.34" width="23.6" height="5.02" fill="#F2C48C"/>
<line x1="518" y1="462.34" x2="541.6" y2="462.34" stroke="#8a9a9a" stroke-width="0.35"/>
<rect x="518" y="454.3" width="23.6" height="8.04" fill="#E8B5D9"/>
<line x1="518" y1="454.3" x2="541.6" y2="454.3" stroke="#8a9a9a" stroke-width="0.35"/>
<rect x="577" y="474.19" width="23.6" height="41.41" fill="#A8CBD5"/>
<line x1="577" y1="474.19" x2="600.6" y2="474.19" stroke="#8a9a9a" stroke-width="0.35"/>
<rect x="577" y="424.75" width="23.6" height="49.45" fill="#ADE5C8"/>
<line x1="577" y1="424.75" x2="600.6" y2="424.75" stroke="#8a9a9a" stroke-width="0.35"/>
<rect x="577" y="419.52" width="23.6" height="5.23" fill="#EF9C80"/>
<line x1="577" y1="419.52" x2="600.6" y2="419.52" stroke="#8a9a9a" stroke-width="0.35"/>
<rect x="577" y="416.11" width="23.6" height="3.42" fill="#F2C48C"/>
<line x1="577" y1="416.11" x2="600.6" y2="416.11" stroke="#8a9a9a" stroke-width="0.35"/>
<rect x="577" y="409.87" width="23.6" height="6.23" fill="#E8B5D9"/>
<line x1="577" y1="409.87" x2="600.6" y2="409.87" stroke="#8a9a9a" stroke-width="0.35"/>
<rect x="636" y="429.17" width="23.6" height="86.43" fill="#A8CBD5"/>
<line x1="636" y1="429.17" x2="659.6" y2="429.17" stroke="#8a9a9a" stroke-width="0.35"/>
<rect x="636" y="410.68" width="23.6" height="18.49" fill="#ADE5C8"/>
<line x1="636" y1="410.68" x2="659.6" y2="410.68" stroke="#8a9a9a" stroke-width="0.35"/>
<rect x="636" y="404.65" width="23.6" height="6.03" fill="#EF9C80"/>
<line x1="636" y1="404.65" x2="659.6" y2="404.65" stroke="#8a9a9a" stroke-width="0.35"/>
<rect x="636" y="401.63" width="23.6" height="3.01" fill="#F2C48C"/>
<line x1="636" y1="401.63" x2="659.6" y2="401.63" stroke="#8a9a9a" stroke-width="0.35"/>
<rect x="636" y="391.18" width="23.6" height="10.45" fill="#E8B5D9"/>
<line x1="636" y1="391.18" x2="659.6" y2="391.18" stroke="#8a9a9a" stroke-width="0.35"/>
<circle cx="524" cy="500" r="1.6" fill="#e6e6e6" stroke="#808080" stroke-width="0.7"/>
<circle cx="536" cy="496" r="1.6" fill="#e6e6e6" stroke="#808080" stroke-width="0.7"/>
<circle cx="536" cy="472.6" r="1.6" fill="#e6e6e6" stroke="#808080" stroke-width="0.7"/>
<circle cx="524" cy="469" r="1.6" fill="#e6e6e6" stroke="#808080" stroke-width="0.7"/>
<circle cx="524" cy="465" r="1.6" fill="#e6e6e6" stroke="#808080" stroke-width="0.7"/>
<circle cx="536" cy="467" r="1.6" fill="#e6e6e6" stroke="#808080" stroke-width="0.7"/>
<circle cx="524" cy="461.6" r="1.6" fill="#e6e6e6" stroke="#808080" stroke-width="0.7"/>
<circle cx="536" cy="463.6" r="1.6" fill="#e6e6e6" stroke="#808080" stroke-width="0.7"/>
<circle cx="524" cy="454.6" r="1.6" fill="#e6e6e6" stroke="#808080" stroke-width="0.7"/>
<circle cx="536" cy="454.6" r="1.6" fill="#e6e6e6" stroke="#808080" stroke-width="0.7"/>
<path d="M530 496v4M528.8 496h2.4M528.8 500h2.4" stroke="#888" stroke-width="0.6" fill="none"/>
<path d="M530 470v4M528.8 470h2.4M528.8 474h2.4" stroke="#888" stroke-width="0.6" fill="none"/>
<circle cx="583" cy="478" r="1.6" fill="#e6e6e6" stroke="#808080" stroke-width="0.7"/>
<circle cx="595" cy="470.6" r="1.6" fill="#e6e6e6" stroke="#808080" stroke-width="0.7"/>
<circle cx="583" cy="427.6" r="1.6" fill="#e6e6e6" stroke="#808080" stroke-width="0.7"/>
<circle cx="583" cy="421" r="1.6" fill="#e6e6e6" stroke="#808080" stroke-width="0.7"/>
<circle cx="595" cy="420" r="1.6" fill="#e6e6e6" stroke="#808080" stroke-width="0.7"/>
<circle cx="595" cy="416.6" r="1.6" fill="#e6e6e6" stroke="#808080" stroke-width="0.7"/>
<circle cx="583" cy="415.4" r="1.6" fill="#e6e6e6" stroke="#808080" stroke-width="0.7"/>
<circle cx="583" cy="409.6" r="1.6" fill="#e6e6e6" stroke="#808080" stroke-width="0.7"/>
<circle cx="595" cy="409.6" r="1.6" fill="#e6e6e6" stroke="#808080" stroke-width="0.7"/>
<path d="M589 471v6M587.8 471h2.4M587.8 477h2.4" stroke="#888" stroke-width="0.6" fill="none"/>
<circle cx="654" cy="434.6" r="1.6" fill="#e6e6e6" stroke="#808080" stroke-width="0.7"/>
<circle cx="642" cy="424" r="1.6" fill="#e6e6e6" stroke="#808080" stroke-width="0.7"/>
<circle cx="654" cy="413.4" r="1.6" fill="#e6e6e6" stroke="#808080" stroke-width="0.7"/>
<circle cx="642" cy="407.4" r="1.6" fill="#e6e6e6" stroke="#808080" stroke-width="0.7"/>
<circle cx="654" cy="403.6" r="1.6" fill="#e6e6e6" stroke="#808080" stroke-width="0.7"/>
<circle cx="642" cy="402.6" r="1.6" fill="#e6e6e6" stroke="#808080" stroke-width="0.7"/>
<circle cx="654" cy="402.6" r="1.6" fill="#e6e6e6" stroke="#808080" stroke-width="0.7"/>
<circle cx="642" cy="392" r="1.6" fill="#e6e6e6" stroke="#808080" stroke-width="0.7"/>
<circle cx="654" cy="390.6" r="1.6" fill="#e6e6e6" stroke="#808080" stroke-width="0.7"/>
<path d="M648 424v10M646.8 424h2.4M646.8 434h2.4" stroke="#888" stroke-width="0.6" fill="none"/>
<path d="M648 403v10M646.8 403h2.4M646.8 413h2.4" stroke="#888" stroke-width="0.6" fill="none"/>
<rect x="505" y="379.4" width="15" height="7" fill="#E8B5D9"/>
<text x="521.6" y="385.3" font-size="7" text-anchor="start" fill="#222" font-weight="bold">h<tspan dy="-2.66" font-size="4.76">+</tspan></text>
<rect x="505" y="389" width="15" height="7" fill="#F2C48C"/>
<text x="521.6" y="394.9" font-size="7" text-anchor="start" fill="#222" font-weight="bold">Free ClO<tspan dy="-2.66" font-size="4.76">•</tspan></text>
<rect x="505" y="398" width="15" height="7" fill="#EF9C80"/>
<text x="521.6" y="403.9" font-size="7" text-anchor="start" fill="#222" font-weight="bold">Surface ClO<tspan dy="-2.66" font-size="4.76">•</tspan></text>
<rect x="505" y="407" width="15" height="7" fill="#ADE5C8"/>
<text x="521.6" y="412.9" font-size="7" text-anchor="start" fill="#222" font-weight="bold">Free HO<tspan dy="-2.66" font-size="4.76">•</tspan></text>
<rect x="505" y="416.4" width="15" height="7" fill="#A8CBD5"/>
<text x="521.6" y="422.3" font-size="7" text-anchor="start" fill="#222" font-weight="bold">Surface HO<tspan dy="-2.66" font-size="4.76">•</tspan></text>
<text x="530" y="526.2" font-size="9" text-anchor="middle" fill="#151515" font-weight="bold">UV/FC/</text>
<text x="530" y="535.2" font-size="9" text-anchor="middle" fill="#151515" font-weight="bold">TiO<tspan dy="2.52" font-size="6.12">2</tspan></text>
<text x="589" y="526.2" font-size="9" text-anchor="middle" fill="#151515" font-weight="bold">UV/FC/</text>
<text x="589" y="535.2" font-size="9" text-anchor="middle" fill="#151515" font-weight="bold">TiO<tspan dy="2.52" font-size="6.12">2</tspan><tspan dy="-2.52">/C</tspan><tspan dy="2.52" font-size="6.12">3</tspan><tspan dy="-2.52">N</tspan><tspan dy="2.52" font-size="6.12">4</tspan></text>
<text x="648" y="526.2" font-size="9" text-anchor="middle" fill="#151515" font-weight="bold">UV/FC/</text>
<text x="648" y="535.2" font-size="9" text-anchor="middle" fill="#151515" font-weight="bold">TiO<tspan dy="2.52" font-size="6.12">2</tspan><tspan dy="-2.52">/C</tspan><tspan dy="2.52" font-size="6.12">2</tspan><tspan dy="-2.52">N</tspan></text>
<rect x="500" y="374.4" width="178" height="142" fill="none" stroke="#151515" stroke-width="1.5"/>
</svg></body></html>
